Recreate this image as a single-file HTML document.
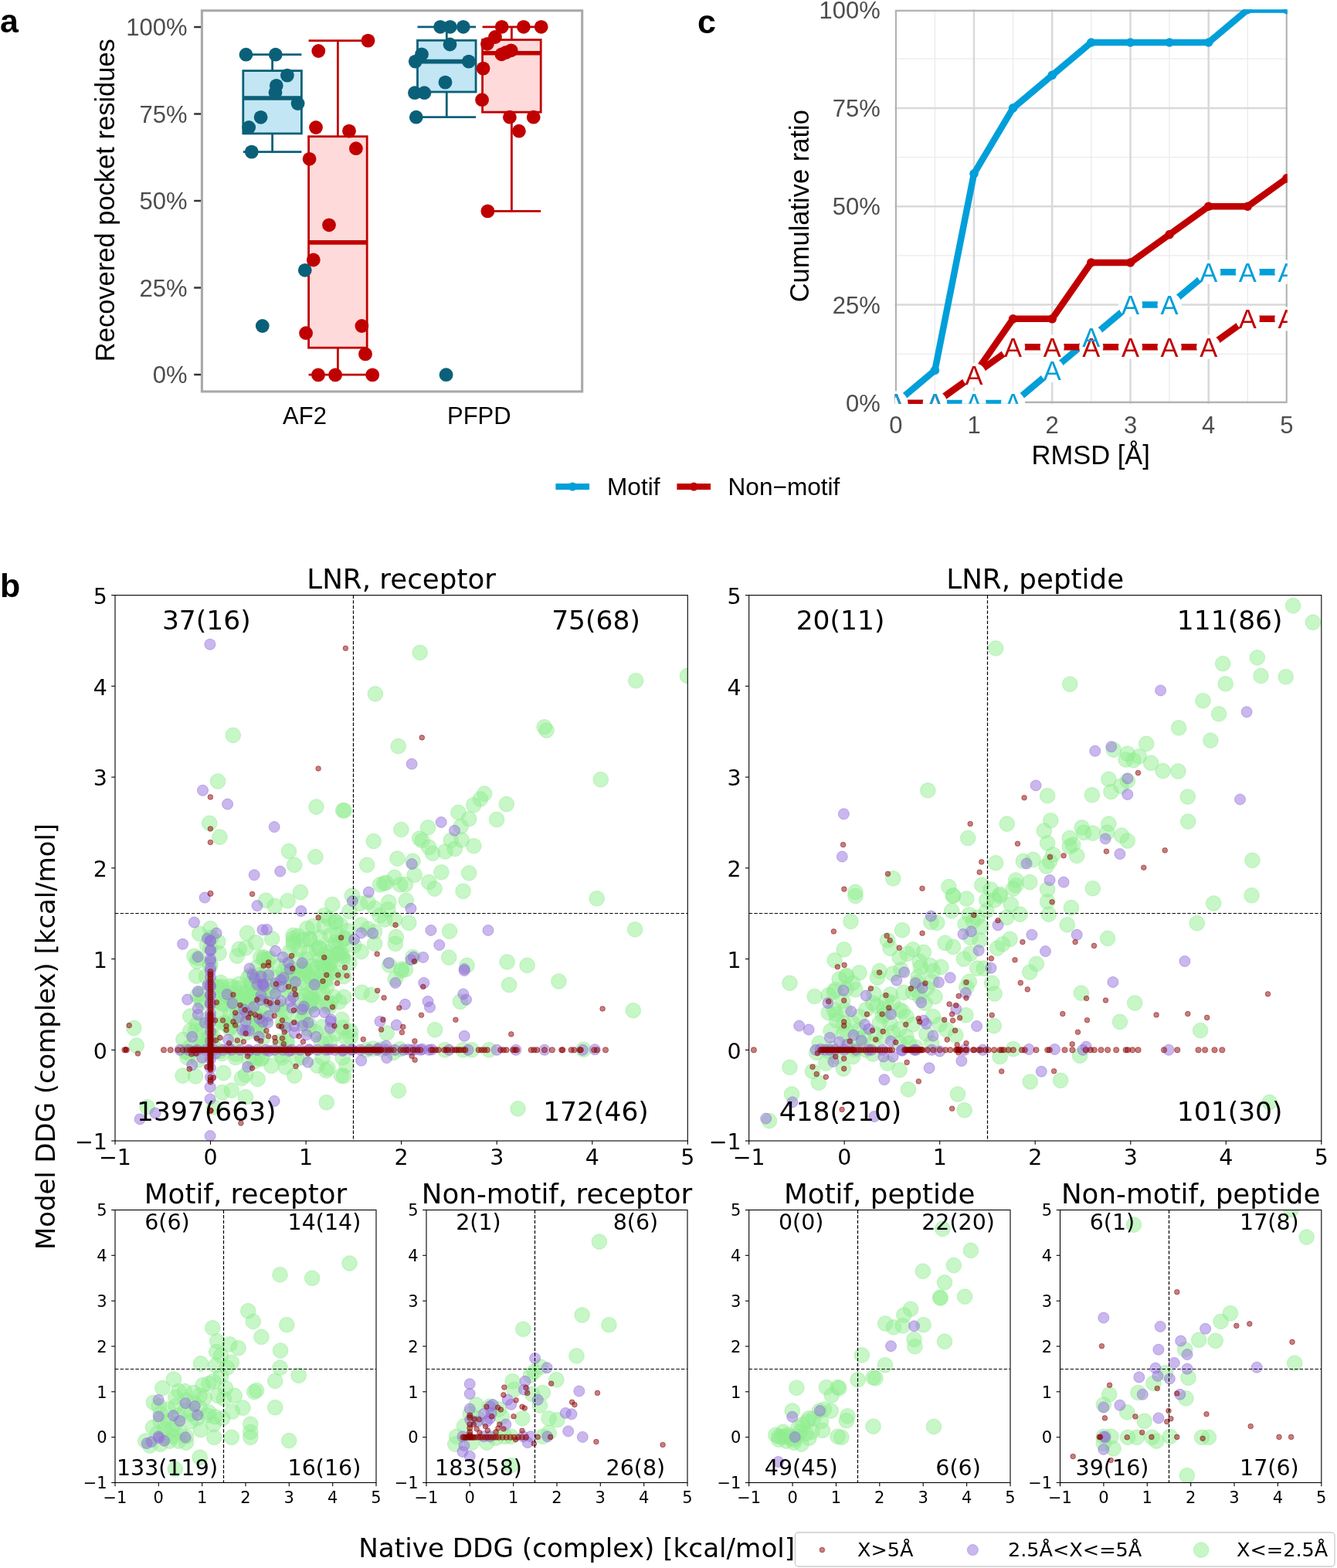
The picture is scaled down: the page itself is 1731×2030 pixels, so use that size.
<!DOCTYPE html>
<html><head><meta charset="utf-8"><title>Figure</title>
<style>html,body{margin:0;padding:0;background:#fff;} svg{display:block;}</style></head>
<body><svg width="1731" height="2030" viewBox="0 0 1731 2030">
<rect width="1731" height="2030" fill="#fff"/>
<rect x="261.4" y="13.75" width="492.3" height="493.15" fill="none" stroke="#a9a9a9" stroke-width="3.1"/>
<line x1="251.2" y1="485.0" x2="260.1" y2="485.0" stroke="#333" stroke-width="2.5"/>
<text x="242.6" y="496.1" text-anchor="end" font-size="31" fill="#4d4d4d" font-family="'Liberation Sans', Arial, sans-serif">0%</text>
<line x1="251.2" y1="372.5" x2="260.1" y2="372.5" stroke="#333" stroke-width="2.5"/>
<text x="242.6" y="383.6" text-anchor="end" font-size="31" fill="#4d4d4d" font-family="'Liberation Sans', Arial, sans-serif">25%</text>
<line x1="251.2" y1="260.0" x2="260.1" y2="260.0" stroke="#333" stroke-width="2.5"/>
<text x="242.6" y="271.1" text-anchor="end" font-size="31" fill="#4d4d4d" font-family="'Liberation Sans', Arial, sans-serif">50%</text>
<line x1="251.2" y1="147.5" x2="260.1" y2="147.5" stroke="#333" stroke-width="2.5"/>
<text x="242.6" y="158.6" text-anchor="end" font-size="31" fill="#4d4d4d" font-family="'Liberation Sans', Arial, sans-serif">75%</text>
<line x1="251.2" y1="35.0" x2="260.1" y2="35.0" stroke="#333" stroke-width="2.5"/>
<text x="242.6" y="46.1" text-anchor="end" font-size="31" fill="#4d4d4d" font-family="'Liberation Sans', Arial, sans-serif">100%</text>
<text transform="translate(147.9,468.2) rotate(-90)" font-size="34.5" fill="#000" font-family="'Liberation Sans', Arial, sans-serif">Recovered pocket residues</text>
<text x="394.5" y="548.5" text-anchor="middle" font-size="31" fill="#000" font-family="'Liberation Sans', Arial, sans-serif">AF2</text>
<text x="620.3" y="548.5" text-anchor="middle" font-size="31" fill="#000" font-family="'Liberation Sans', Arial, sans-serif">PFPD</text>
<line x1="352.6" y1="70.7" x2="352.6" y2="91.6" stroke="#0b6079" stroke-width="2.8"/>
<line x1="352.6" y1="172.9" x2="352.6" y2="196.6" stroke="#0b6079" stroke-width="2.8"/>
<line x1="314.8" y1="70.7" x2="390.40000000000003" y2="70.7" stroke="#0b6079" stroke-width="2.8"/>
<line x1="314.8" y1="196.6" x2="390.40000000000003" y2="196.6" stroke="#0b6079" stroke-width="2.8"/>
<rect x="314.8" y="91.6" width="75.6" height="81.30000000000001" fill="#c2e6f4" stroke="#0b6079" stroke-width="2.8"/>
<line x1="314.8" y1="127.0" x2="390.40000000000003" y2="127.0" stroke="#0b6079" stroke-width="5.6"/>
<line x1="437.4" y1="52.6" x2="437.4" y2="176.7" stroke="#c00000" stroke-width="2.8"/>
<line x1="437.4" y1="450.2" x2="437.4" y2="485.2" stroke="#c00000" stroke-width="2.8"/>
<line x1="399.59999999999997" y1="52.6" x2="475.2" y2="52.6" stroke="#c00000" stroke-width="2.8"/>
<line x1="399.59999999999997" y1="485.2" x2="475.2" y2="485.2" stroke="#c00000" stroke-width="2.8"/>
<rect x="399.59999999999997" y="176.7" width="75.6" height="273.5" fill="#ffdada" stroke="#c00000" stroke-width="2.8"/>
<line x1="399.59999999999997" y1="313.9" x2="475.2" y2="313.9" stroke="#c00000" stroke-width="5.6"/>
<line x1="578.3" y1="34.9" x2="578.3" y2="52.3" stroke="#0b6079" stroke-width="2.8"/>
<line x1="578.3" y1="119.0" x2="578.3" y2="151.7" stroke="#0b6079" stroke-width="2.8"/>
<line x1="540.5" y1="34.9" x2="616.0999999999999" y2="34.9" stroke="#0b6079" stroke-width="2.8"/>
<line x1="540.5" y1="151.7" x2="616.0999999999999" y2="151.7" stroke="#0b6079" stroke-width="2.8"/>
<rect x="540.5" y="52.3" width="75.6" height="66.7" fill="#c2e6f4" stroke="#0b6079" stroke-width="2.8"/>
<line x1="540.5" y1="79.6" x2="616.0999999999999" y2="79.6" stroke="#0b6079" stroke-width="5.6"/>
<line x1="662.4" y1="34.9" x2="662.4" y2="51.5" stroke="#c00000" stroke-width="2.8"/>
<line x1="662.4" y1="145.2" x2="662.4" y2="273.4" stroke="#c00000" stroke-width="2.8"/>
<line x1="624.6" y1="34.9" x2="700.1999999999999" y2="34.9" stroke="#c00000" stroke-width="2.8"/>
<line x1="624.6" y1="273.4" x2="700.1999999999999" y2="273.4" stroke="#c00000" stroke-width="2.8"/>
<rect x="624.6" y="51.5" width="75.6" height="93.69999999999999" fill="#ffdada" stroke="#c00000" stroke-width="2.8"/>
<line x1="624.6" y1="68.8" x2="700.1999999999999" y2="68.8" stroke="#c00000" stroke-width="5.6"/>
<circle cx="318.5" cy="70.7" r="8.9" fill="#0b6079"/>
<circle cx="356.8" cy="70.7" r="8.9" fill="#0b6079"/>
<circle cx="371.9" cy="97.6" r="8.9" fill="#0b6079"/>
<circle cx="357.8" cy="110.8" r="8.9" fill="#0b6079"/>
<circle cx="356.5" cy="119.7" r="8.9" fill="#0b6079"/>
<circle cx="385.6" cy="134" r="8.9" fill="#0b6079"/>
<circle cx="337.6" cy="151.8" r="8.9" fill="#0b6079"/>
<circle cx="322.2" cy="165" r="8.9" fill="#0b6079"/>
<circle cx="325.8" cy="196.6" r="8.9" fill="#0b6079"/>
<circle cx="394.8" cy="349.8" r="8.9" fill="#0b6079"/>
<circle cx="339.8" cy="422" r="8.9" fill="#0b6079"/>
<circle cx="570.1" cy="34.8" r="8.9" fill="#0b6079"/>
<circle cx="582.8" cy="34.8" r="8.9" fill="#0b6079"/>
<circle cx="599.8" cy="34.8" r="8.9" fill="#0b6079"/>
<circle cx="582.5" cy="57.5" r="8.9" fill="#0b6079"/>
<circle cx="546" cy="70.3" r="8.9" fill="#0b6079"/>
<circle cx="537.8" cy="79.6" r="8.9" fill="#0b6079"/>
<circle cx="606.9" cy="79.6" r="8.9" fill="#0b6079"/>
<circle cx="576.5" cy="106.6" r="8.9" fill="#0b6079"/>
<circle cx="537" cy="120.2" r="8.9" fill="#0b6079"/>
<circle cx="549.4" cy="120.2" r="8.9" fill="#0b6079"/>
<circle cx="538.8" cy="151.7" r="8.9" fill="#0b6079"/>
<circle cx="577.6" cy="485.2" r="8.9" fill="#0b6079"/>
<circle cx="476.5" cy="52.6" r="8.9" fill="#c00000"/>
<circle cx="412.3" cy="66" r="8.9" fill="#c00000"/>
<circle cx="409" cy="165" r="8.9" fill="#c00000"/>
<circle cx="452" cy="169.6" r="8.9" fill="#c00000"/>
<circle cx="460.9" cy="192.2" r="8.9" fill="#c00000"/>
<circle cx="400.6" cy="205.8" r="8.9" fill="#c00000"/>
<circle cx="426" cy="291.3" r="8.9" fill="#c00000"/>
<circle cx="405.8" cy="336.5" r="8.9" fill="#c00000"/>
<circle cx="396.1" cy="431.2" r="8.9" fill="#c00000"/>
<circle cx="468.4" cy="422" r="8.9" fill="#c00000"/>
<circle cx="473" cy="458.4" r="8.9" fill="#c00000"/>
<circle cx="412" cy="485.4" r="8.9" fill="#c00000"/>
<circle cx="434.1" cy="485.4" r="8.9" fill="#c00000"/>
<circle cx="482.2" cy="485.4" r="8.9" fill="#c00000"/>
<circle cx="649.7" cy="34.8" r="8.9" fill="#c00000"/>
<circle cx="677.9" cy="34.8" r="8.9" fill="#c00000"/>
<circle cx="700.7" cy="34.8" r="8.9" fill="#c00000"/>
<circle cx="641" cy="48" r="8.9" fill="#c00000"/>
<circle cx="630.9" cy="56.8" r="8.9" fill="#c00000"/>
<circle cx="661.7" cy="65.3" r="8.9" fill="#c00000"/>
<circle cx="649.4" cy="70.3" r="8.9" fill="#c00000"/>
<circle cx="655" cy="68" r="8.9" fill="#c00000"/>
<circle cx="625.6" cy="88.6" r="8.9" fill="#c00000"/>
<circle cx="624.1" cy="129.2" r="8.9" fill="#c00000"/>
<circle cx="659.9" cy="151.7" r="8.9" fill="#c00000"/>
<circle cx="690.7" cy="151.7" r="8.9" fill="#c00000"/>
<circle cx="671.9" cy="169.7" r="8.9" fill="#c00000"/>
<circle cx="631.4" cy="273.4" r="8.9" fill="#c00000"/>
<text x="0" y="42.4" font-size="43" font-weight="bold" fill="#000" font-family="'Liberation Sans', Arial, sans-serif">a</text>
<defs><clipPath id="cpc"><rect x="1158.6" y="12.2" width="508.2" height="510.6"/></clipPath></defs>
<g clip-path="url(#cpc)"><line x1="1210.4" y1="0" x2="1210.4" y2="530" stroke="#ebebeb" stroke-width="1.3"/>
<line x1="1311.6" y1="0" x2="1311.6" y2="530" stroke="#ebebeb" stroke-width="1.3"/>
<line x1="1412.8" y1="0" x2="1412.8" y2="530" stroke="#ebebeb" stroke-width="1.3"/>
<line x1="1514.1" y1="0" x2="1514.1" y2="530" stroke="#ebebeb" stroke-width="1.3"/>
<line x1="1615.3" y1="0" x2="1615.3" y2="530" stroke="#ebebeb" stroke-width="1.3"/>
<line x1="1150" y1="458.3" x2="1680" y2="458.3" stroke="#ebebeb" stroke-width="1.3"/>
<line x1="1150" y1="330.9" x2="1680" y2="330.9" stroke="#ebebeb" stroke-width="1.3"/>
<line x1="1150" y1="203.6" x2="1680" y2="203.6" stroke="#ebebeb" stroke-width="1.3"/>
<line x1="1150" y1="76.2" x2="1680" y2="76.2" stroke="#ebebeb" stroke-width="1.3"/>
<line x1="1261.0" y1="0" x2="1261.0" y2="530" stroke="#d9d9d9" stroke-width="2.5"/>
<line x1="1362.2" y1="0" x2="1362.2" y2="530" stroke="#d9d9d9" stroke-width="2.5"/>
<line x1="1463.5" y1="0" x2="1463.5" y2="530" stroke="#d9d9d9" stroke-width="2.5"/>
<line x1="1564.7" y1="0" x2="1564.7" y2="530" stroke="#d9d9d9" stroke-width="2.5"/>
<line x1="1150" y1="394.6" x2="1680" y2="394.6" stroke="#d9d9d9" stroke-width="2.5"/>
<line x1="1150" y1="267.2" x2="1680" y2="267.2" stroke="#d9d9d9" stroke-width="2.5"/>
<line x1="1150" y1="139.9" x2="1680" y2="139.9" stroke="#d9d9d9" stroke-width="2.5"/>
<rect x="1159.8" y="13.8" width="506.1" height="507.0" fill="none" stroke="#b3b3b3" stroke-width="2.5"/>
<path d="M1159.8,522.0 L1210.4,522.0 L1261.0,522.0 L1311.6,522.0 L1362.2,479.5 L1412.8,437.1 L1463.5,394.6 L1514.1,394.6 L1564.7,352.2 L1615.3,352.2 L1665.9,352.2" fill="none" stroke="#009fd9" stroke-width="8.5" stroke-linejoin="round"/>
<path d="M1159.8,522.0 L1210.4,522.0 L1261.0,485.6 L1311.6,449.2 L1362.2,449.2 L1412.8,449.2 L1463.5,449.2 L1514.1,449.2 L1564.7,449.2 L1615.3,412.8 L1665.9,412.8" fill="none" stroke="#c00000" stroke-width="8.5" stroke-linejoin="round"/>
<path d="M1159.8,522.0 L1210.4,479.5 L1261.0,224.8 L1311.6,139.9 L1362.2,97.4 L1412.8,55.0 L1463.5,55.0 L1514.1,55.0 L1564.7,55.0 L1615.3,12.5 L1665.9,12.5" fill="none" stroke="#009fd9" stroke-width="8.5" stroke-linejoin="round"/>
<path d="M1159.8,522.0 L1210.4,522.0 L1261.0,485.6 L1311.6,412.8 L1362.2,412.8 L1412.8,340.0 L1463.5,340.0 L1514.1,303.6 L1564.7,267.2 L1615.3,267.2 L1665.9,230.9" fill="none" stroke="#c00000" stroke-width="8.5" stroke-linejoin="round"/>
<circle cx="1159.8" cy="522.0" r="5.8" fill="#009fd9"/>
<circle cx="1210.4" cy="479.5" r="5.8" fill="#009fd9"/>
<circle cx="1261.0" cy="224.8" r="5.8" fill="#009fd9"/>
<circle cx="1311.6" cy="139.9" r="5.8" fill="#009fd9"/>
<circle cx="1362.2" cy="97.4" r="5.8" fill="#009fd9"/>
<circle cx="1412.8" cy="55.0" r="5.8" fill="#009fd9"/>
<circle cx="1463.5" cy="55.0" r="5.8" fill="#009fd9"/>
<circle cx="1514.1" cy="55.0" r="5.8" fill="#009fd9"/>
<circle cx="1564.7" cy="55.0" r="5.8" fill="#009fd9"/>
<circle cx="1615.3" cy="12.5" r="5.8" fill="#009fd9"/>
<circle cx="1665.9" cy="12.5" r="5.8" fill="#009fd9"/>
<circle cx="1159.8" cy="522.0" r="5.8" fill="#c00000"/>
<circle cx="1210.4" cy="522.0" r="5.8" fill="#c00000"/>
<circle cx="1261.0" cy="485.6" r="5.8" fill="#c00000"/>
<circle cx="1311.6" cy="412.8" r="5.8" fill="#c00000"/>
<circle cx="1362.2" cy="412.8" r="5.8" fill="#c00000"/>
<circle cx="1412.8" cy="340.0" r="5.8" fill="#c00000"/>
<circle cx="1463.5" cy="340.0" r="5.8" fill="#c00000"/>
<circle cx="1514.1" cy="303.6" r="5.8" fill="#c00000"/>
<circle cx="1564.7" cy="267.2" r="5.8" fill="#c00000"/>
<circle cx="1615.3" cy="267.2" r="5.8" fill="#c00000"/>
<circle cx="1665.9" cy="230.9" r="5.8" fill="#c00000"/>
<circle cx="1159.8" cy="522.0" r="15.6" fill="#fff"/>
<circle cx="1210.4" cy="522.0" r="15.6" fill="#fff"/>
<circle cx="1261.0" cy="522.0" r="15.6" fill="#fff"/>
<circle cx="1311.6" cy="522.0" r="15.6" fill="#fff"/>
<circle cx="1362.2" cy="479.5" r="15.6" fill="#fff"/>
<circle cx="1412.8" cy="437.1" r="15.6" fill="#fff"/>
<circle cx="1463.5" cy="394.6" r="15.6" fill="#fff"/>
<circle cx="1514.1" cy="394.6" r="15.6" fill="#fff"/>
<circle cx="1564.7" cy="352.2" r="15.6" fill="#fff"/>
<circle cx="1615.3" cy="352.2" r="15.6" fill="#fff"/>
<circle cx="1665.9" cy="352.2" r="15.6" fill="#fff"/>
<circle cx="1159.8" cy="522.0" r="15.6" fill="#fff"/>
<circle cx="1210.4" cy="522.0" r="15.6" fill="#fff"/>
<circle cx="1261.0" cy="485.6" r="15.6" fill="#fff"/>
<circle cx="1311.6" cy="449.2" r="15.6" fill="#fff"/>
<circle cx="1362.2" cy="449.2" r="15.6" fill="#fff"/>
<circle cx="1412.8" cy="449.2" r="15.6" fill="#fff"/>
<circle cx="1463.5" cy="449.2" r="15.6" fill="#fff"/>
<circle cx="1514.1" cy="449.2" r="15.6" fill="#fff"/>
<circle cx="1564.7" cy="449.2" r="15.6" fill="#fff"/>
<circle cx="1615.3" cy="412.8" r="15.6" fill="#fff"/>
<circle cx="1665.9" cy="412.8" r="15.6" fill="#fff"/>
<text x="1159.8" y="534.4" text-anchor="middle" font-size="34.5" fill="#c00000" font-family="'Liberation Sans', Arial, sans-serif">A</text>
<text x="1210.4" y="534.4" text-anchor="middle" font-size="34.5" fill="#c00000" font-family="'Liberation Sans', Arial, sans-serif">A</text>
<text x="1261.0" y="498.0" text-anchor="middle" font-size="34.5" fill="#c00000" font-family="'Liberation Sans', Arial, sans-serif">A</text>
<text x="1311.6" y="461.6" text-anchor="middle" font-size="34.5" fill="#c00000" font-family="'Liberation Sans', Arial, sans-serif">A</text>
<text x="1362.2" y="461.6" text-anchor="middle" font-size="34.5" fill="#c00000" font-family="'Liberation Sans', Arial, sans-serif">A</text>
<text x="1412.8" y="461.6" text-anchor="middle" font-size="34.5" fill="#c00000" font-family="'Liberation Sans', Arial, sans-serif">A</text>
<text x="1463.5" y="461.6" text-anchor="middle" font-size="34.5" fill="#c00000" font-family="'Liberation Sans', Arial, sans-serif">A</text>
<text x="1514.1" y="461.6" text-anchor="middle" font-size="34.5" fill="#c00000" font-family="'Liberation Sans', Arial, sans-serif">A</text>
<text x="1564.7" y="461.6" text-anchor="middle" font-size="34.5" fill="#c00000" font-family="'Liberation Sans', Arial, sans-serif">A</text>
<text x="1615.3" y="425.2" text-anchor="middle" font-size="34.5" fill="#c00000" font-family="'Liberation Sans', Arial, sans-serif">A</text>
<text x="1665.9" y="425.2" text-anchor="middle" font-size="34.5" fill="#c00000" font-family="'Liberation Sans', Arial, sans-serif">A</text>
<text x="1159.8" y="534.4" text-anchor="middle" font-size="34.5" fill="#009fd9" font-family="'Liberation Sans', Arial, sans-serif">A</text>
<text x="1210.4" y="534.4" text-anchor="middle" font-size="34.5" fill="#009fd9" font-family="'Liberation Sans', Arial, sans-serif">A</text>
<text x="1261.0" y="534.4" text-anchor="middle" font-size="34.5" fill="#009fd9" font-family="'Liberation Sans', Arial, sans-serif">A</text>
<text x="1311.6" y="534.4" text-anchor="middle" font-size="34.5" fill="#009fd9" font-family="'Liberation Sans', Arial, sans-serif">A</text>
<text x="1362.2" y="491.9" text-anchor="middle" font-size="34.5" fill="#009fd9" font-family="'Liberation Sans', Arial, sans-serif">A</text>
<text x="1412.8" y="449.4" text-anchor="middle" font-size="34.5" fill="#009fd9" font-family="'Liberation Sans', Arial, sans-serif">A</text>
<text x="1463.5" y="407.0" text-anchor="middle" font-size="34.5" fill="#009fd9" font-family="'Liberation Sans', Arial, sans-serif">A</text>
<text x="1514.1" y="407.0" text-anchor="middle" font-size="34.5" fill="#009fd9" font-family="'Liberation Sans', Arial, sans-serif">A</text>
<text x="1564.7" y="364.5" text-anchor="middle" font-size="34.5" fill="#009fd9" font-family="'Liberation Sans', Arial, sans-serif">A</text>
<text x="1615.3" y="364.5" text-anchor="middle" font-size="34.5" fill="#009fd9" font-family="'Liberation Sans', Arial, sans-serif">A</text>
<text x="1665.9" y="364.5" text-anchor="middle" font-size="34.5" fill="#009fd9" font-family="'Liberation Sans', Arial, sans-serif">A</text></g>
<text x="1139.9" y="533.1" text-anchor="end" font-size="31" fill="#4d4d4d" font-family="'Liberation Sans', Arial, sans-serif">0%</text>
<text x="1139.9" y="405.7" text-anchor="end" font-size="31" fill="#4d4d4d" font-family="'Liberation Sans', Arial, sans-serif">25%</text>
<text x="1139.9" y="278.4" text-anchor="end" font-size="31" fill="#4d4d4d" font-family="'Liberation Sans', Arial, sans-serif">50%</text>
<text x="1139.9" y="151.0" text-anchor="end" font-size="31" fill="#4d4d4d" font-family="'Liberation Sans', Arial, sans-serif">75%</text>
<text x="1139.9" y="23.6" text-anchor="end" font-size="31" fill="#4d4d4d" font-family="'Liberation Sans', Arial, sans-serif">100%</text>
<text x="1159.8" y="560.6" text-anchor="middle" font-size="31" fill="#4d4d4d" font-family="'Liberation Sans', Arial, sans-serif">0</text>
<text x="1261.0" y="560.6" text-anchor="middle" font-size="31" fill="#4d4d4d" font-family="'Liberation Sans', Arial, sans-serif">1</text>
<text x="1362.2" y="560.6" text-anchor="middle" font-size="31" fill="#4d4d4d" font-family="'Liberation Sans', Arial, sans-serif">2</text>
<text x="1463.5" y="560.6" text-anchor="middle" font-size="31" fill="#4d4d4d" font-family="'Liberation Sans', Arial, sans-serif">3</text>
<text x="1564.7" y="560.6" text-anchor="middle" font-size="31" fill="#4d4d4d" font-family="'Liberation Sans', Arial, sans-serif">4</text>
<text x="1665.9" y="560.6" text-anchor="middle" font-size="31" fill="#4d4d4d" font-family="'Liberation Sans', Arial, sans-serif">5</text>
<text x="1412.2" y="601" text-anchor="middle" font-size="34.5" fill="#000" font-family="'Liberation Sans', Arial, sans-serif">RMSD [Å]</text>
<text transform="translate(1046.5,266.7) rotate(-90)" text-anchor="middle" font-size="34.5" fill="#000" font-family="'Liberation Sans', Arial, sans-serif">Cumulative ratio</text>
<text x="903" y="43.3" font-size="43" font-weight="bold" fill="#000" font-family="'Liberation Sans', Arial, sans-serif">c</text>
<line x1="719.4" y1="630" x2="763.1" y2="630" stroke="#009fd9" stroke-width="8"/>
<circle cx="741.3" cy="630" r="5.6" fill="#009fd9"/>
<text x="786" y="641" font-size="31.6" fill="#000" font-family="'Liberation Sans', Arial, sans-serif">Motif</text>
<line x1="876.4" y1="630" x2="920" y2="630" stroke="#c00000" stroke-width="8"/>
<circle cx="898.3" cy="630" r="5.6" fill="#c00000"/>
<text x="942.5" y="641" font-size="31.6" fill="#000" font-family="'Liberation Sans', Arial, sans-serif">Non−motif</text>
<clipPath id="cpL"><rect x="149.0" y="770.6" width="741.3" height="706.4"/></clipPath>
<g clip-path="url(#cpL)">
<g fill="#90ee90" fill-opacity="0.5" stroke="#90ee90" stroke-opacity="0.5" stroke-width="1">
<circle cx="272.3" cy="1202.1" r="9.8"/>
<circle cx="268.0" cy="1223.7" r="9.8"/>
<circle cx="283.6" cy="1234.1" r="9.8"/>
<circle cx="255.0" cy="1244.5" r="9.8"/>
<circle cx="272.3" cy="1248.0" r="9.8"/>
<circle cx="254.1" cy="1263.6" r="9.8"/>
<circle cx="272.3" cy="1274.0" r="9.8"/>
<circle cx="320.0" cy="1208.1" r="9.8"/>
<circle cx="331.2" cy="1220.3" r="9.8"/>
<circle cx="309.6" cy="1228.9" r="9.8"/>
<circle cx="307.0" cy="1237.6" r="9.8"/>
<circle cx="318.2" cy="1227.2" r="9.8"/>
<circle cx="337.3" cy="1239.3" r="9.8"/>
<circle cx="333.0" cy="1252.3" r="9.8"/>
<circle cx="298.3" cy="1276.6" r="9.8"/>
<circle cx="302.7" cy="1278.3" r="9.8"/>
<circle cx="315.6" cy="1287.0" r="9.8"/>
<circle cx="328.6" cy="1278.3" r="9.8"/>
<circle cx="337.3" cy="1265.3" r="9.8"/>
<circle cx="259.3" cy="1287.0" r="9.8"/>
<circle cx="276.7" cy="1291.3" r="9.8"/>
<circle cx="285.3" cy="1308.6" r="9.8"/>
<circle cx="298.3" cy="1313.0" r="9.8"/>
<circle cx="246.3" cy="1315.6" r="9.8"/>
<circle cx="255.0" cy="1326.0" r="9.8"/>
<circle cx="337.3" cy="1291.3" r="9.8"/>
<circle cx="320.0" cy="1300.0" r="9.8"/>
<circle cx="276.7" cy="1326.0" r="9.8"/>
<circle cx="311.3" cy="1326.0" r="9.8"/>
<circle cx="333.0" cy="1326.0" r="9.8"/>
<circle cx="289.7" cy="1300.0" r="9.8"/>
<circle cx="298.3" cy="1291.3" r="9.8"/>
<circle cx="324.3" cy="1291.3" r="9.8"/>
<circle cx="311.3" cy="1313.0" r="9.8"/>
<circle cx="344.2" cy="1165.7" r="9.8"/>
<circle cx="355.7" cy="1172.8" r="9.8"/>
<circle cx="372.6" cy="1166.2" r="9.8"/>
<circle cx="389.0" cy="1155.1" r="9.8"/>
<circle cx="430.2" cy="1171.0" r="9.8"/>
<circle cx="455.9" cy="1159.5" r="9.8"/>
<circle cx="452.3" cy="1179.9" r="9.8"/>
<circle cx="419.5" cy="1185.2" r="9.8"/>
<circle cx="405.4" cy="1199.4" r="9.8"/>
<circle cx="434.6" cy="1193.2" r="9.8"/>
<circle cx="440.8" cy="1197.6" r="9.8"/>
<circle cx="379.6" cy="1210.9" r="9.8"/>
<circle cx="385.9" cy="1211.8" r="9.8"/>
<circle cx="400.9" cy="1216.2" r="9.8"/>
<circle cx="414.2" cy="1213.6" r="9.8"/>
<circle cx="427.5" cy="1210.9" r="9.8"/>
<circle cx="434.6" cy="1219.8" r="9.8"/>
<circle cx="445.2" cy="1215.4" r="9.8"/>
<circle cx="458.5" cy="1224.2" r="9.8"/>
<circle cx="352.2" cy="1215.4" r="9.8"/>
<circle cx="341.5" cy="1239.3" r="9.8"/>
<circle cx="374.3" cy="1233.1" r="9.8"/>
<circle cx="387.6" cy="1228.7" r="9.8"/>
<circle cx="399.1" cy="1233.1" r="9.8"/>
<circle cx="409.8" cy="1228.7" r="9.8"/>
<circle cx="423.1" cy="1233.1" r="9.8"/>
<circle cx="427.5" cy="1240.2" r="9.8"/>
<circle cx="443.5" cy="1237.5" r="9.8"/>
<circle cx="452.3" cy="1246.4" r="9.8"/>
<circle cx="361.0" cy="1250.8" r="9.8"/>
<circle cx="378.8" cy="1255.2" r="9.8"/>
<circle cx="392.1" cy="1255.2" r="9.8"/>
<circle cx="405.4" cy="1250.8" r="9.8"/>
<circle cx="418.7" cy="1250.8" r="9.8"/>
<circle cx="436.4" cy="1259.7" r="9.8"/>
<circle cx="445.2" cy="1264.1" r="9.8"/>
<circle cx="445.2" cy="1290.7" r="9.8"/>
<circle cx="392.1" cy="1273.0" r="9.8"/>
<circle cx="409.8" cy="1268.5" r="9.8"/>
<circle cx="423.1" cy="1277.4" r="9.8"/>
<circle cx="400.9" cy="1286.3" r="9.8"/>
<circle cx="387.6" cy="1295.1" r="9.8"/>
<circle cx="400.9" cy="1299.6" r="9.8"/>
<circle cx="425.7" cy="1304.0" r="9.8"/>
<circle cx="442.6" cy="1320.0" r="9.8"/>
<circle cx="365.5" cy="1308.4" r="9.8"/>
<circle cx="343.3" cy="1308.4" r="9.8"/>
<circle cx="352.2" cy="1286.3" r="9.8"/>
<circle cx="396.5" cy="1242.0" r="9.8"/>
<circle cx="414.2" cy="1242.0" r="9.8"/>
<circle cx="383.2" cy="1242.0" r="9.8"/>
<circle cx="369.9" cy="1264.1" r="9.8"/>
<circle cx="400.9" cy="1264.1" r="9.8"/>
<circle cx="418.7" cy="1286.3" r="9.8"/>
<circle cx="432.0" cy="1290.7" r="9.8"/>
<circle cx="282.1" cy="1011.5" r="9.8"/>
<circle cx="271.2" cy="1065.7" r="9.8"/>
<circle cx="284.5" cy="1083.6" r="9.8"/>
<circle cx="409.5" cy="1044.6" r="9.8"/>
<circle cx="444.1" cy="1049.3" r="9.8"/>
<circle cx="374.0" cy="1102.1" r="9.8"/>
<circle cx="381.2" cy="1119.8" r="9.8"/>
<circle cx="408.4" cy="1109.4" r="9.8"/>
<circle cx="173.3" cy="1331.0" r="9.8"/>
<circle cx="176.7" cy="1353.6" r="9.8"/>
<circle cx="237.4" cy="1345.8" r="9.8"/>
<circle cx="236.5" cy="1392.6" r="9.8"/>
<circle cx="253.0" cy="1393.4" r="9.8"/>
<circle cx="242.6" cy="1369.2" r="9.8"/>
<circle cx="289.4" cy="1389.1" r="9.8"/>
<circle cx="312.8" cy="1396.0" r="9.8"/>
<circle cx="333.6" cy="1396.9" r="9.8"/>
<circle cx="381.2" cy="1392.6" r="9.8"/>
<circle cx="410.7" cy="1379.6" r="9.8"/>
<circle cx="424.6" cy="1383.0" r="9.8"/>
<circle cx="441.9" cy="1392.6" r="9.8"/>
<circle cx="287.6" cy="1414.2" r="9.8"/>
<circle cx="299.8" cy="1411.6" r="9.8"/>
<circle cx="318.0" cy="1420.3" r="9.8"/>
<circle cx="422.8" cy="1427.2" r="9.8"/>
<circle cx="190.6" cy="1433.3" r="9.8"/>
<circle cx="277.2" cy="1433.3" r="9.8"/>
<circle cx="256.5" cy="1355.3" r="9.8"/>
<circle cx="256.5" cy="1372.6" r="9.8"/>
<circle cx="287.6" cy="1364.0" r="9.8"/>
<circle cx="305.0" cy="1369.2" r="9.8"/>
<circle cx="322.3" cy="1372.6" r="9.8"/>
<circle cx="339.6" cy="1369.2" r="9.8"/>
<circle cx="365.6" cy="1369.2" r="9.8"/>
<circle cx="391.6" cy="1369.2" r="9.8"/>
<circle cx="417.6" cy="1369.2" r="9.8"/>
<circle cx="443.6" cy="1369.2" r="9.8"/>
<circle cx="305.0" cy="1346.6" r="9.8"/>
<circle cx="391.6" cy="1320.6" r="9.8"/>
<circle cx="417.6" cy="1329.3" r="9.8"/>
<circle cx="435.0" cy="1338.0" r="9.8"/>
<circle cx="246.1" cy="1355.3" r="9.8"/>
<circle cx="261.7" cy="1346.6" r="9.8"/>
<circle cx="253.0" cy="1334.5" r="9.8"/>
<circle cx="515.7" cy="966.1" r="9.8"/>
<circle cx="445.7" cy="1049.3" r="9.8"/>
<circle cx="483.7" cy="1089.1" r="9.8"/>
<circle cx="519.4" cy="1074.0" r="9.8"/>
<circle cx="475.2" cy="1119.8" r="9.8"/>
<circle cx="514.5" cy="1111.6" r="9.8"/>
<circle cx="534.5" cy="1114.8" r="9.8"/>
<circle cx="536.7" cy="1132.8" r="9.8"/>
<circle cx="627.2" cy="1027.6" r="9.8"/>
<circle cx="622.0" cy="1034.5" r="9.8"/>
<circle cx="613.3" cy="1042.3" r="9.8"/>
<circle cx="655.8" cy="1041.1" r="9.8"/>
<circle cx="643.1" cy="1061.0" r="9.8"/>
<circle cx="593.4" cy="1051.9" r="9.8"/>
<circle cx="607.2" cy="1060.2" r="9.8"/>
<circle cx="596.5" cy="1070.1" r="9.8"/>
<circle cx="554.0" cy="1071.4" r="9.8"/>
<circle cx="543.1" cy="1085.6" r="9.8"/>
<circle cx="546.6" cy="1088.2" r="9.8"/>
<circle cx="555.3" cy="1096.9" r="9.8"/>
<circle cx="560.1" cy="1104.7" r="9.8"/>
<circle cx="576.4" cy="1102.5" r="9.8"/>
<circle cx="583.8" cy="1087.9" r="9.8"/>
<circle cx="597.7" cy="1087.4" r="9.8"/>
<circle cx="588.7" cy="1099.0" r="9.8"/>
<circle cx="613.3" cy="1095.2" r="9.8"/>
<circle cx="571.4" cy="1129.3" r="9.8"/>
<circle cx="607.2" cy="1130.4" r="9.8"/>
<circle cx="555.3" cy="1142.0" r="9.8"/>
<circle cx="562.7" cy="1150.6" r="9.8"/>
<circle cx="599.6" cy="1153.8" r="9.8"/>
<circle cx="510.7" cy="1135.9" r="9.8"/>
<circle cx="497.2" cy="1143.7" r="9.8"/>
<circle cx="492.0" cy="1145.4" r="9.8"/>
<circle cx="499.8" cy="1142.8" r="9.8"/>
<circle cx="518.0" cy="1145.4" r="9.8"/>
<circle cx="524.9" cy="1145.1" r="9.8"/>
<circle cx="525.8" cy="1165.9" r="9.8"/>
<circle cx="466.0" cy="1169.7" r="9.8"/>
<circle cx="476.4" cy="1168.0" r="9.8"/>
<circle cx="485.1" cy="1175.8" r="9.8"/>
<circle cx="503.3" cy="1168.0" r="9.8"/>
<circle cx="502.4" cy="1177.5" r="9.8"/>
<circle cx="492.0" cy="1185.3" r="9.8"/>
<circle cx="498.1" cy="1190.5" r="9.8"/>
<circle cx="511.1" cy="1190.5" r="9.8"/>
<circle cx="529.3" cy="1194.8" r="9.8"/>
<circle cx="467.7" cy="1197.4" r="9.8"/>
<circle cx="476.4" cy="1202.6" r="9.8"/>
<circle cx="485.1" cy="1206.1" r="9.8"/>
<circle cx="512.8" cy="1213.0" r="9.8"/>
<circle cx="511.9" cy="1221.7" r="9.8"/>
<circle cx="485.1" cy="1221.7" r="9.8"/>
<circle cx="467.7" cy="1232.1" r="9.8"/>
<circle cx="504.1" cy="1249.4" r="9.8"/>
<circle cx="519.7" cy="1254.6" r="9.8"/>
<circle cx="534.5" cy="1239.0" r="9.8"/>
<circle cx="582.1" cy="1205.6" r="9.8"/>
<circle cx="581.2" cy="1239.5" r="9.8"/>
<circle cx="604.6" cy="1249.9" r="9.8"/>
<circle cx="656.6" cy="1245.4" r="9.8"/>
<circle cx="682.6" cy="1249.8" r="9.8"/>
<circle cx="519.7" cy="1256.9" r="9.8"/>
<circle cx="524.9" cy="1255.2" r="9.8"/>
<circle cx="659.2" cy="1275.1" r="9.8"/>
<circle cx="723.4" cy="1270.5" r="9.8"/>
<circle cx="596.0" cy="1296.8" r="9.8"/>
<circle cx="511.9" cy="1267.3" r="9.8"/>
<circle cx="468.6" cy="1284.7" r="9.8"/>
<circle cx="480.7" cy="1288.1" r="9.8"/>
<circle cx="453.9" cy="1334.9" r="9.8"/>
<circle cx="453.9" cy="1342.7" r="9.8"/>
<circle cx="500.7" cy="1337.5" r="9.8"/>
<circle cx="563.1" cy="1333.2" r="9.8"/>
<circle cx="474.7" cy="1359.2" r="9.8"/>
<circle cx="483.3" cy="1357.5" r="9.8"/>
<circle cx="493.7" cy="1358.3" r="9.8"/>
<circle cx="518.0" cy="1358.3" r="9.8"/>
<circle cx="509.3" cy="1362.7" r="9.8"/>
<circle cx="576.0" cy="1359.2" r="9.8"/>
<circle cx="599.4" cy="1359.2" r="9.8"/>
<circle cx="610.7" cy="1359.2" r="9.8"/>
<circle cx="633.2" cy="1359.2" r="9.8"/>
<circle cx="445.2" cy="1393.0" r="9.8"/>
<circle cx="515.9" cy="1412.0" r="9.8"/>
<circle cx="670.5" cy="1435.4" r="9.8"/>
<circle cx="777.8" cy="1009.2" r="9.8"/>
<circle cx="772.7" cy="1163.3" r="9.8"/>
<circle cx="822.1" cy="1203.3" r="9.8"/>
<circle cx="819.8" cy="1308.3" r="9.8"/>
<circle cx="755.4" cy="1358.7" r="9.8"/>
<circle cx="543.7" cy="844.9" r="9.8"/>
<circle cx="485.9" cy="898.4" r="9.8"/>
<circle cx="823.2" cy="881.3" r="9.8"/>
<circle cx="890.0" cy="874.9" r="9.8"/>
<circle cx="301.8" cy="951.9" r="9.8"/>
<circle cx="704.7" cy="941.2" r="9.8"/>
<circle cx="707.6" cy="945.5" r="9.8"/>
<circle cx="302.8" cy="1321.3" r="9.8"/>
<circle cx="414.1" cy="1227.7" r="9.8"/>
<circle cx="366.6" cy="1258.4" r="9.8"/>
<circle cx="394.2" cy="1312.0" r="9.8"/>
<circle cx="426.8" cy="1255.8" r="9.8"/>
<circle cx="357.8" cy="1301.4" r="9.8"/>
<circle cx="319.5" cy="1336.8" r="9.8"/>
<circle cx="356.4" cy="1265.7" r="9.8"/>
<circle cx="392.6" cy="1216.7" r="9.8"/>
<circle cx="406.6" cy="1299.8" r="9.8"/>
<circle cx="332.7" cy="1280.2" r="9.8"/>
<circle cx="368.4" cy="1280.5" r="9.8"/>
<circle cx="420.0" cy="1252.8" r="9.8"/>
<circle cx="309.6" cy="1274.1" r="9.8"/>
<circle cx="403.3" cy="1294.0" r="9.8"/>
<circle cx="345.3" cy="1256.7" r="9.8"/>
<circle cx="368.9" cy="1310.4" r="9.8"/>
<circle cx="371.1" cy="1249.5" r="9.8"/>
<circle cx="286.7" cy="1298.5" r="9.8"/>
<circle cx="415.3" cy="1272.7" r="9.8"/>
<circle cx="431.1" cy="1224.1" r="9.8"/>
<circle cx="381.2" cy="1259.9" r="9.8"/>
<circle cx="326.6" cy="1274.0" r="9.8"/>
<circle cx="422.1" cy="1269.3" r="9.8"/>
<circle cx="378.3" cy="1254.7" r="9.8"/>
<circle cx="289.0" cy="1324.9" r="9.8"/>
<circle cx="379.8" cy="1218.9" r="9.8"/>
<circle cx="368.3" cy="1264.0" r="9.8"/>
<circle cx="342.1" cy="1242.1" r="9.8"/>
<circle cx="374.2" cy="1285.9" r="9.8"/>
<circle cx="387.3" cy="1259.8" r="9.8"/>
<circle cx="310.4" cy="1279.7" r="9.8"/>
<circle cx="324.2" cy="1320.4" r="9.8"/>
<circle cx="412.6" cy="1226.8" r="9.8"/>
<circle cx="298.4" cy="1286.1" r="9.8"/>
<circle cx="404.8" cy="1259.2" r="9.8"/>
<circle cx="336.0" cy="1262.2" r="9.8"/>
<circle cx="298.3" cy="1329.6" r="9.8"/>
<circle cx="386.1" cy="1316.5" r="9.8"/>
<circle cx="304.9" cy="1301.0" r="9.8"/>
<circle cx="307.4" cy="1298.7" r="9.8"/>
<circle cx="398.9" cy="1273.5" r="9.8"/>
<circle cx="420.1" cy="1269.0" r="9.8"/>
<circle cx="318.5" cy="1289.9" r="9.8"/>
<circle cx="348.8" cy="1278.4" r="9.8"/>
<circle cx="335.8" cy="1287.1" r="9.8"/>
<circle cx="333.2" cy="1323.1" r="9.8"/>
<circle cx="333.9" cy="1335.8" r="9.8"/>
<circle cx="410.5" cy="1253.1" r="9.8"/>
<circle cx="434.4" cy="1193.3" r="9.8"/>
<circle cx="379.9" cy="1214.5" r="9.8"/>
<circle cx="403.5" cy="1267.8" r="9.8"/>
<circle cx="345.9" cy="1242.2" r="9.8"/>
<circle cx="315.4" cy="1293.9" r="9.8"/>
<circle cx="297.5" cy="1292.6" r="9.8"/>
<circle cx="331.4" cy="1266.4" r="9.8"/>
<circle cx="336.6" cy="1325.1" r="9.8"/>
<circle cx="443.8" cy="1241.7" r="9.8"/>
<circle cx="320.5" cy="1302.0" r="9.8"/>
<circle cx="440.1" cy="1221.0" r="9.8"/>
<circle cx="413.2" cy="1282.2" r="9.8"/>
<circle cx="427.7" cy="1245.5" r="9.8"/>
<circle cx="292.0" cy="1324.3" r="9.8"/>
<circle cx="339.3" cy="1284.6" r="9.8"/>
<circle cx="417.3" cy="1247.1" r="9.8"/>
<circle cx="379.9" cy="1222.7" r="9.8"/>
<circle cx="328.0" cy="1311.8" r="9.8"/>
<circle cx="425.4" cy="1189.3" r="9.8"/>
<circle cx="397.6" cy="1201.8" r="9.8"/>
<circle cx="299.4" cy="1327.3" r="9.8"/>
<circle cx="321.7" cy="1305.0" r="9.8"/>
<circle cx="297.2" cy="1331.3" r="9.8"/>
<circle cx="439.8" cy="1233.8" r="9.8"/>
<circle cx="323.8" cy="1262.8" r="9.8"/>
<circle cx="296.7" cy="1290.4" r="9.8"/>
<circle cx="384.5" cy="1258.5" r="9.8"/>
<circle cx="450.5" cy="1205.0" r="9.8"/>
<circle cx="317.1" cy="1285.0" r="9.8"/>
<circle cx="400.7" cy="1292.0" r="9.8"/>
<circle cx="324.8" cy="1273.0" r="9.8"/>
<circle cx="394.3" cy="1289.1" r="9.8"/>
<circle cx="335.0" cy="1321.3" r="9.8"/>
<circle cx="437.0" cy="1235.2" r="9.8"/>
<circle cx="338.1" cy="1273.4" r="9.8"/>
<circle cx="381.4" cy="1281.6" r="9.8"/>
<circle cx="292.3" cy="1287.8" r="9.8"/>
<circle cx="330.4" cy="1312.6" r="9.8"/>
<circle cx="366.2" cy="1323.7" r="9.8"/>
<circle cx="419.6" cy="1199.5" r="9.8"/>
<circle cx="446.8" cy="1214.7" r="9.8"/>
<circle cx="424.3" cy="1237.9" r="9.8"/>
<circle cx="441.6" cy="1233.7" r="9.8"/>
<circle cx="437.0" cy="1209.7" r="9.8"/>
<circle cx="334.9" cy="1330.1" r="9.8"/>
<circle cx="400.9" cy="1215.5" r="9.8"/>
<circle cx="405.4" cy="1292.9" r="9.8"/>
<circle cx="376.1" cy="1272.9" r="9.8"/>
<circle cx="429.5" cy="1259.0" r="9.8"/>
<circle cx="349.0" cy="1240.9" r="9.8"/>
<circle cx="393.3" cy="1253.2" r="9.8"/>
<circle cx="425.6" cy="1250.2" r="9.8"/>
<circle cx="349.9" cy="1284.2" r="9.8"/>
<circle cx="372.5" cy="1266.5" r="9.8"/>
<circle cx="393.7" cy="1256.6" r="9.8"/>
<circle cx="400.4" cy="1303.0" r="9.8"/>
<circle cx="321.2" cy="1265.6" r="9.8"/>
<circle cx="351.9" cy="1275.9" r="9.8"/>
<circle cx="327.7" cy="1289.5" r="9.8"/>
<circle cx="369.5" cy="1326.0" r="9.8"/>
<circle cx="307.2" cy="1308.4" r="9.8"/>
<circle cx="244.1" cy="1363.0" r="9.8"/>
<circle cx="422.3" cy="1386.0" r="9.8"/>
<circle cx="384.4" cy="1370.9" r="9.8"/>
<circle cx="369.8" cy="1381.4" r="9.8"/>
<circle cx="364.2" cy="1365.6" r="9.8"/>
<circle cx="329.7" cy="1373.9" r="9.8"/>
<circle cx="448.4" cy="1379.2" r="9.8"/>
<circle cx="333.0" cy="1369.5" r="9.8"/>
<circle cx="239.4" cy="1361.0" r="9.8"/>
<circle cx="337.6" cy="1371.2" r="9.8"/>
<circle cx="318.1" cy="1391.5" r="9.8"/>
<circle cx="351.5" cy="1379.8" r="9.8"/>
<circle cx="285.2" cy="1360.8" r="9.8"/>
<circle cx="305.6" cy="1364.8" r="9.8"/>
<circle cx="255.7" cy="1288.9" r="9.8"/>
<circle cx="261.1" cy="1298.2" r="9.8"/>
<circle cx="271.8" cy="1214.2" r="9.8"/>
<circle cx="246.3" cy="1334.6" r="9.8"/>
<circle cx="256.5" cy="1240.5" r="9.8"/>
<circle cx="287.2" cy="1277.3" r="9.8"/>
<circle cx="280.6" cy="1278.3" r="9.8"/>
<circle cx="272.3" cy="1227.5" r="9.8"/>
<circle cx="272.2" cy="1339.4" r="9.8"/>
<circle cx="267.5" cy="1319.6" r="9.8"/>
<circle cx="273.7" cy="1214.0" r="9.8"/>
<circle cx="277.3" cy="1296.2" r="9.8"/>
<circle cx="258.3" cy="1208.8" r="9.8"/>
<circle cx="281.8" cy="1277.7" r="9.8"/>
<circle cx="275.7" cy="1341.1" r="9.8"/>
<circle cx="275.5" cy="1347.7" r="9.8"/>
<circle cx="262.2" cy="1328.9" r="9.8"/>
<circle cx="264.3" cy="1349.9" r="9.8"/>
<circle cx="282.3" cy="1219.2" r="9.8"/>
<circle cx="251.4" cy="1237.8" r="9.8"/>
<circle cx="285.9" cy="1272.0" r="9.8"/>
<circle cx="271.8" cy="1251.0" r="9.8"/>
<circle cx="266.9" cy="1264.2" r="9.8"/>
<circle cx="260.4" cy="1295.3" r="9.8"/>
<circle cx="270.1" cy="1345.0" r="9.8"/>
<circle cx="408.5" cy="1336.0" r="9.8"/>
<circle cx="427.5" cy="1348.4" r="9.8"/>
<circle cx="421.4" cy="1347.2" r="9.8"/>
<circle cx="343.2" cy="1318.9" r="9.8"/>
<circle cx="443.8" cy="1330.2" r="9.8"/>
<circle cx="439.1" cy="1297.0" r="9.8"/>
<circle cx="391.6" cy="1305.3" r="9.8"/>
<circle cx="399.8" cy="1325.6" r="9.8"/>
<circle cx="341.4" cy="1303.4" r="9.8"/>
<circle cx="370.7" cy="1346.8" r="9.8"/>
<circle cx="424.2" cy="1299.9" r="9.8"/>
<circle cx="427.7" cy="1298.6" r="9.8"/>
<circle cx="407.9" cy="1297.9" r="9.8"/>
<circle cx="340.2" cy="1344.0" r="9.8"/>
<circle cx="363.0" cy="1303.4" r="9.8"/>
<circle cx="448.1" cy="1344.1" r="9.8"/>
<circle cx="371.8" cy="1349.6" r="9.8"/>
<circle cx="399.3" cy="1332.0" r="9.8"/>
<circle cx="362.5" cy="1348.3" r="9.8"/>
<circle cx="416.0" cy="1349.9" r="9.8"/>
</g>
<g fill="#9370db" fill-opacity="0.5" stroke="#9370db" stroke-opacity="0.5" stroke-width="1">
<circle cx="251.4" cy="1194.1" r="7.0"/>
<circle cx="236.6" cy="1222.3" r="7.0"/>
<circle cx="280.1" cy="1208.1" r="7.0"/>
<circle cx="268.4" cy="1215.1" r="7.0"/>
<circle cx="272.3" cy="1217.7" r="7.0"/>
<circle cx="272.3" cy="1230.7" r="7.0"/>
<circle cx="256.3" cy="1238.9" r="7.0"/>
<circle cx="272.3" cy="1244.5" r="7.0"/>
<circle cx="272.3" cy="1257.5" r="7.0"/>
<circle cx="323.0" cy="1253.9" r="7.0"/>
<circle cx="329.5" cy="1266.2" r="7.0"/>
<circle cx="333.0" cy="1274.9" r="7.0"/>
<circle cx="339.9" cy="1274.0" r="7.0"/>
<circle cx="256.3" cy="1283.5" r="7.0"/>
<circle cx="268.9" cy="1275.7" r="7.0"/>
<circle cx="272.3" cy="1275.7" r="7.0"/>
<circle cx="242.7" cy="1294.1" r="7.0"/>
<circle cx="272.3" cy="1287.9" r="7.0"/>
<circle cx="272.3" cy="1298.2" r="7.0"/>
<circle cx="256.3" cy="1305.6" r="7.0"/>
<circle cx="256.3" cy="1313.8" r="7.0"/>
<circle cx="272.3" cy="1317.3" r="7.0"/>
<circle cx="300.9" cy="1299.1" r="7.0"/>
<circle cx="315.6" cy="1306.9" r="7.0"/>
<circle cx="328.6" cy="1303.4" r="7.0"/>
<circle cx="337.3" cy="1294.8" r="7.0"/>
<circle cx="308.7" cy="1317.3" r="7.0"/>
<circle cx="333.0" cy="1172.6" r="7.0"/>
<circle cx="339.9" cy="1203.8" r="7.0"/>
<circle cx="265.4" cy="1324.2" r="7.0"/>
<circle cx="318.2" cy="1322.5" r="7.0"/>
<circle cx="335.6" cy="1319.0" r="7.0"/>
<circle cx="389.8" cy="1179.5" r="7.0"/>
<circle cx="456.3" cy="1166.6" r="7.0"/>
<circle cx="345.5" cy="1203.4" r="7.0"/>
<circle cx="458.5" cy="1216.2" r="7.0"/>
<circle cx="356.6" cy="1231.3" r="7.0"/>
<circle cx="366.3" cy="1239.3" r="7.0"/>
<circle cx="373.4" cy="1246.4" r="7.0"/>
<circle cx="391.2" cy="1246.8" r="7.0"/>
<circle cx="347.7" cy="1262.3" r="7.0"/>
<circle cx="382.3" cy="1271.2" r="7.0"/>
<circle cx="407.1" cy="1274.8" r="7.0"/>
<circle cx="356.6" cy="1273.0" r="7.0"/>
<circle cx="365.5" cy="1277.4" r="7.0"/>
<circle cx="356.6" cy="1286.3" r="7.0"/>
<circle cx="347.7" cy="1296.9" r="7.0"/>
<circle cx="363.7" cy="1296.0" r="7.0"/>
<circle cx="376.1" cy="1296.0" r="7.0"/>
<circle cx="379.6" cy="1290.7" r="7.0"/>
<circle cx="355.7" cy="1304.0" r="7.0"/>
<circle cx="391.2" cy="1306.7" r="7.0"/>
<circle cx="407.1" cy="1310.2" r="7.0"/>
<circle cx="428.4" cy="1320.0" r="7.0"/>
<circle cx="262.5" cy="1023.3" r="7.0"/>
<circle cx="294.6" cy="1041.1" r="7.0"/>
<circle cx="355.2" cy="1070.6" r="7.0"/>
<circle cx="329.2" cy="1132.8" r="7.0"/>
<circle cx="362.7" cy="1128.1" r="7.0"/>
<circle cx="265.1" cy="1162.1" r="7.0"/>
<circle cx="346.6" cy="1324.1" r="7.0"/>
<circle cx="318.0" cy="1334.5" r="7.0"/>
<circle cx="322.3" cy="1334.5" r="7.0"/>
<circle cx="313.6" cy="1333.6" r="7.0"/>
<circle cx="335.3" cy="1342.3" r="7.0"/>
<circle cx="381.2" cy="1337.1" r="7.0"/>
<circle cx="396.8" cy="1339.7" r="7.0"/>
<circle cx="409.0" cy="1342.3" r="7.0"/>
<circle cx="428.0" cy="1322.4" r="7.0"/>
<circle cx="248.7" cy="1342.3" r="7.0"/>
<circle cx="295.4" cy="1345.8" r="7.0"/>
<circle cx="398.6" cy="1375.2" r="7.0"/>
<circle cx="320.6" cy="1381.3" r="7.0"/>
<circle cx="248.7" cy="1378.7" r="7.0"/>
<circle cx="272.1" cy="1407.3" r="7.0"/>
<circle cx="272.1" cy="1422.9" r="7.0"/>
<circle cx="355.2" cy="1425.5" r="7.0"/>
<circle cx="201.0" cy="1441.1" r="7.0"/>
<circle cx="181.1" cy="1448.9" r="7.0"/>
<circle cx="272.1" cy="1470.6" r="7.0"/>
<circle cx="261.7" cy="1369.2" r="7.0"/>
<circle cx="279.0" cy="1364.0" r="7.0"/>
<circle cx="296.3" cy="1357.0" r="7.0"/>
<circle cx="322.3" cy="1360.5" r="7.0"/>
<circle cx="348.3" cy="1360.5" r="7.0"/>
<circle cx="374.3" cy="1360.5" r="7.0"/>
<circle cx="400.3" cy="1358.8" r="7.0"/>
<circle cx="426.3" cy="1358.8" r="7.0"/>
<circle cx="443.6" cy="1360.5" r="7.0"/>
<circle cx="253.0" cy="1360.5" r="7.0"/>
<circle cx="533.1" cy="989.1" r="7.0"/>
<circle cx="571.2" cy="1064.5" r="7.0"/>
<circle cx="588.5" cy="1075.3" r="7.0"/>
<circle cx="533.2" cy="1118.6" r="7.0"/>
<circle cx="477.3" cy="1155.0" r="7.0"/>
<circle cx="531.9" cy="1176.3" r="7.0"/>
<circle cx="467.7" cy="1207.8" r="7.0"/>
<circle cx="482.5" cy="1208.2" r="7.0"/>
<circle cx="557.9" cy="1204.4" r="7.0"/>
<circle cx="632.0" cy="1204.4" r="7.0"/>
<circle cx="568.8" cy="1223.4" r="7.0"/>
<circle cx="503.3" cy="1246.8" r="7.0"/>
<circle cx="531.9" cy="1242.5" r="7.0"/>
<circle cx="535.3" cy="1239.0" r="7.0"/>
<circle cx="547.8" cy="1239.4" r="7.0"/>
<circle cx="601.2" cy="1254.6" r="7.0"/>
<circle cx="601.2" cy="1256.6" r="7.0"/>
<circle cx="511.9" cy="1272.5" r="7.0"/>
<circle cx="548.8" cy="1272.5" r="7.0"/>
<circle cx="524.4" cy="1300.3" r="7.0"/>
<circle cx="554.0" cy="1296.4" r="7.0"/>
<circle cx="556.5" cy="1304.1" r="7.0"/>
<circle cx="599.8" cy="1286.9" r="7.0"/>
<circle cx="603.6" cy="1294.2" r="7.0"/>
<circle cx="492.0" cy="1322.4" r="7.0"/>
<circle cx="513.3" cy="1327.1" r="7.0"/>
<circle cx="601.2" cy="1341.3" r="7.0"/>
<circle cx="455.6" cy="1358.8" r="7.0"/>
<circle cx="489.4" cy="1357.5" r="7.0"/>
<circle cx="499.8" cy="1354.0" r="7.0"/>
<circle cx="500.7" cy="1369.6" r="7.0"/>
<circle cx="467.7" cy="1373.1" r="7.0"/>
<circle cx="528.4" cy="1358.8" r="7.0"/>
<circle cx="537.9" cy="1358.8" r="7.0"/>
<circle cx="546.6" cy="1358.3" r="7.0"/>
<circle cx="559.2" cy="1358.8" r="7.0"/>
<circle cx="770.2" cy="1358.7" r="7.0"/>
<circle cx="271.9" cy="834.2" r="7.0"/>
<circle cx="427.3" cy="1331.1" r="7.0"/>
<circle cx="393.4" cy="1303.1" r="7.0"/>
<circle cx="340.0" cy="1323.1" r="7.0"/>
<circle cx="391.7" cy="1328.0" r="7.0"/>
<circle cx="381.0" cy="1328.5" r="7.0"/>
<circle cx="370.0" cy="1330.1" r="7.0"/>
<circle cx="420.3" cy="1310.7" r="7.0"/>
<circle cx="399.2" cy="1324.1" r="7.0"/>
<circle cx="326.9" cy="1261.7" r="7.0"/>
<circle cx="294.0" cy="1287.4" r="7.0"/>
<circle cx="363.7" cy="1268.7" r="7.0"/>
<circle cx="340.9" cy="1274.4" r="7.0"/>
<circle cx="367.3" cy="1265.7" r="7.0"/>
<circle cx="318.3" cy="1310.8" r="7.0"/>
<circle cx="375.2" cy="1254.6" r="7.0"/>
<circle cx="347.8" cy="1315.4" r="7.0"/>
<circle cx="337.9" cy="1264.1" r="7.0"/>
<circle cx="342.0" cy="1276.8" r="7.0"/>
<circle cx="378.1" cy="1305.1" r="7.0"/>
<circle cx="338.1" cy="1288.6" r="7.0"/>
<circle cx="233.0" cy="1359.3" r="7.0"/>
<circle cx="244.1" cy="1359.3" r="7.0"/>
<circle cx="255.3" cy="1359.3" r="7.0"/>
<circle cx="266.4" cy="1359.3" r="7.0"/>
<circle cx="277.5" cy="1359.3" r="7.0"/>
<circle cx="288.6" cy="1359.3" r="7.0"/>
<circle cx="299.7" cy="1359.3" r="7.0"/>
<circle cx="310.9" cy="1359.3" r="7.0"/>
<circle cx="322.0" cy="1359.3" r="7.0"/>
<circle cx="333.1" cy="1359.3" r="7.0"/>
<circle cx="344.2" cy="1359.3" r="7.0"/>
<circle cx="355.3" cy="1359.3" r="7.0"/>
<circle cx="366.4" cy="1359.3" r="7.0"/>
<circle cx="377.6" cy="1359.3" r="7.0"/>
<circle cx="388.7" cy="1359.3" r="7.0"/>
<circle cx="399.8" cy="1359.3" r="7.0"/>
<circle cx="410.9" cy="1359.3" r="7.0"/>
<circle cx="422.0" cy="1359.3" r="7.0"/>
<circle cx="433.2" cy="1359.3" r="7.0"/>
<circle cx="444.3" cy="1359.3" r="7.0"/>
<circle cx="455.4" cy="1359.3" r="7.0"/>
<circle cx="466.5" cy="1359.3" r="7.0"/>
<circle cx="477.6" cy="1359.3" r="7.0"/>
<circle cx="488.8" cy="1359.3" r="7.0"/>
<circle cx="499.9" cy="1359.3" r="7.0"/>
<circle cx="511.0" cy="1359.3" r="7.0"/>
<circle cx="522.1" cy="1359.3" r="7.0"/>
<circle cx="533.2" cy="1359.3" r="7.0"/>
<circle cx="544.4" cy="1359.3" r="7.0"/>
<circle cx="555.5" cy="1359.3" r="7.0"/>
<circle cx="581.4" cy="1359.3" r="7.0"/>
<circle cx="606.1" cy="1359.3" r="7.0"/>
<circle cx="643.2" cy="1359.3" r="7.0"/>
<circle cx="667.9" cy="1359.3" r="7.0"/>
<circle cx="705.0" cy="1359.3" r="7.0"/>
<circle cx="754.4" cy="1359.3" r="7.0"/>
<circle cx="272.5" cy="1394.6" r="7.0"/>
<circle cx="272.5" cy="1382.8" r="7.0"/>
<circle cx="272.5" cy="1371.0" r="7.0"/>
<circle cx="272.5" cy="1359.3" r="7.0"/>
<circle cx="272.5" cy="1347.5" r="7.0"/>
<circle cx="272.5" cy="1335.7" r="7.0"/>
<circle cx="272.5" cy="1323.9" r="7.0"/>
<circle cx="272.5" cy="1312.2" r="7.0"/>
<circle cx="272.5" cy="1300.4" r="7.0"/>
<circle cx="272.5" cy="1288.6" r="7.0"/>
<circle cx="272.5" cy="1276.9" r="7.0"/>
<circle cx="272.5" cy="1265.1" r="7.0"/>
<circle cx="272.5" cy="1253.3" r="7.0"/>
<circle cx="272.5" cy="1241.5" r="7.0"/>
<circle cx="272.5" cy="1229.8" r="7.0"/>
<circle cx="272.5" cy="1218.0" r="7.0"/>
</g>
<g fill="#8b0000" fill-opacity="0.5" stroke="#8b0000" stroke-opacity="0.5" stroke-width="1">
<circle cx="326.6" cy="1157.5" r="3.3"/>
<circle cx="412.1" cy="1188.0" r="3.3"/>
<circle cx="512.0" cy="1197.5" r="3.3"/>
<circle cx="441.6" cy="1213.9" r="3.3"/>
<circle cx="488.2" cy="1235.1" r="3.3"/>
<circle cx="377.5" cy="1237.4" r="3.3"/>
<circle cx="347.6" cy="1245.8" r="3.3"/>
<circle cx="341.3" cy="1250.3" r="3.3"/>
<circle cx="347.6" cy="1250.3" r="3.3"/>
<circle cx="419.8" cy="1239.5" r="3.3"/>
<circle cx="378.6" cy="1253.9" r="3.3"/>
<circle cx="446.6" cy="1252.6" r="3.3"/>
<circle cx="422.8" cy="1262.3" r="3.3"/>
<circle cx="437.7" cy="1262.3" r="3.3"/>
<circle cx="449.1" cy="1263.2" r="3.3"/>
<circle cx="418.0" cy="1270.3" r="3.3"/>
<circle cx="436.6" cy="1272.9" r="3.3"/>
<circle cx="357.4" cy="1273.9" r="3.3"/>
<circle cx="373.6" cy="1277.5" r="3.3"/>
<circle cx="381.3" cy="1280.7" r="3.3"/>
<circle cx="382.5" cy="1287.5" r="3.3"/>
<circle cx="488.7" cy="1282.5" r="3.3"/>
<circle cx="497.1" cy="1291.8" r="3.3"/>
<circle cx="423.2" cy="1291.8" r="3.3"/>
<circle cx="301.9" cy="1287.9" r="3.3"/>
<circle cx="280.4" cy="1297.7" r="3.3"/>
<circle cx="430.5" cy="1303.7" r="3.3"/>
<circle cx="310.9" cy="1301.3" r="3.3"/>
<circle cx="317.2" cy="1307.6" r="3.3"/>
<circle cx="304.6" cy="1311.2" r="3.3"/>
<circle cx="332.7" cy="1294.2" r="3.3"/>
<circle cx="344.9" cy="1296.5" r="3.3"/>
<circle cx="349.4" cy="1298.6" r="3.3"/>
<circle cx="359.2" cy="1297.7" r="3.3"/>
<circle cx="380.4" cy="1308.0" r="3.3"/>
<circle cx="516.8" cy="1304.9" r="3.3"/>
<circle cx="545.5" cy="1314.2" r="3.3"/>
<circle cx="321.6" cy="1317.4" r="3.3"/>
<circle cx="324.3" cy="1312.1" r="3.3"/>
<circle cx="330.6" cy="1313.9" r="3.3"/>
<circle cx="336.0" cy="1316.5" r="3.3"/>
<circle cx="355.3" cy="1315.1" r="3.3"/>
<circle cx="288.5" cy="1321.0" r="3.3"/>
<circle cx="278.7" cy="1321.0" r="3.3"/>
<circle cx="293.0" cy="1328.2" r="3.3"/>
<circle cx="293.0" cy="1333.6" r="3.3"/>
<circle cx="301.9" cy="1322.8" r="3.3"/>
<circle cx="304.6" cy="1327.3" r="3.3"/>
<circle cx="365.5" cy="1321.0" r="3.3"/>
<circle cx="361.0" cy="1328.2" r="3.3"/>
<circle cx="364.6" cy="1329.1" r="3.3"/>
<circle cx="380.7" cy="1323.7" r="3.3"/>
<circle cx="433.0" cy="1328.2" r="3.3"/>
<circle cx="447.9" cy="1329.1" r="3.3"/>
<circle cx="495.9" cy="1320.1" r="3.3"/>
<circle cx="521.8" cy="1329.4" r="3.3"/>
<circle cx="493.6" cy="1333.0" r="3.3"/>
<circle cx="520.4" cy="1336.6" r="3.3"/>
<circle cx="318.1" cy="1338.0" r="3.3"/>
<circle cx="344.9" cy="1334.5" r="3.3"/>
<circle cx="347.6" cy="1341.6" r="3.3"/>
<circle cx="368.2" cy="1336.2" r="3.3"/>
<circle cx="279.5" cy="1347.0" r="3.3"/>
<circle cx="284.9" cy="1343.4" r="3.3"/>
<circle cx="296.6" cy="1350.6" r="3.3"/>
<circle cx="307.3" cy="1347.0" r="3.3"/>
<circle cx="315.4" cy="1348.8" r="3.3"/>
<circle cx="332.4" cy="1344.3" r="3.3"/>
<circle cx="337.8" cy="1347.9" r="3.3"/>
<circle cx="355.7" cy="1343.4" r="3.3"/>
<circle cx="356.6" cy="1348.8" r="3.3"/>
<circle cx="365.5" cy="1344.3" r="3.3"/>
<circle cx="387.0" cy="1341.6" r="3.3"/>
<circle cx="392.4" cy="1348.8" r="3.3"/>
<circle cx="367.3" cy="1351.5" r="3.3"/>
<circle cx="470.3" cy="1345.6" r="3.3"/>
<circle cx="536.9" cy="1347.9" r="3.3"/>
<circle cx="547.8" cy="1277.5" r="3.3"/>
<circle cx="536.5" cy="1244.6" r="3.3"/>
<circle cx="412.1" cy="995.0" r="3.3"/>
<circle cx="272.4" cy="1031.9" r="3.3"/>
<circle cx="272.4" cy="1073.0" r="3.3"/>
<circle cx="272.4" cy="1090.5" r="3.3"/>
<circle cx="167.2" cy="1327.6" r="3.3"/>
<circle cx="178.5" cy="1364.0" r="3.3"/>
<circle cx="162.9" cy="1358.8" r="3.3"/>
<circle cx="320.6" cy="1367.4" r="3.3"/>
<circle cx="326.6" cy="1383.0" r="3.3"/>
<circle cx="383.0" cy="1380.4" r="3.3"/>
<circle cx="245.2" cy="1383.9" r="3.3"/>
<circle cx="267.7" cy="1381.3" r="3.3"/>
<circle cx="247.8" cy="1364.8" r="3.3"/>
<circle cx="253.9" cy="1364.0" r="3.3"/>
<circle cx="398.6" cy="1364.0" r="3.3"/>
<circle cx="276.4" cy="1395.2" r="3.3"/>
<circle cx="272.9" cy="1437.6" r="3.3"/>
<circle cx="311.9" cy="1454.1" r="3.3"/>
<circle cx="589.9" cy="1320.2" r="3.3"/>
<circle cx="661.8" cy="1338.9" r="3.3"/>
<circle cx="533.2" cy="1367.3" r="3.3"/>
<circle cx="537.1" cy="1372.2" r="3.3"/>
<circle cx="780.1" cy="1306.0" r="3.3"/>
<circle cx="447.4" cy="839.3" r="3.3"/>
<circle cx="546.3" cy="954.9" r="3.3"/>
</g>
<g fill="#8b0000" fill-opacity="0.5" stroke="#8b0000" stroke-opacity="0.5" stroke-width="1">
<circle cx="161.4" cy="1359.3" r="3.63"/>
<circle cx="163.8" cy="1359.3" r="3.63"/>
<circle cx="212.0" cy="1359.3" r="3.63"/>
<circle cx="220.7" cy="1359.3" r="3.63"/>
<circle cx="230.5" cy="1359.3" r="3.63"/>
<circle cx="236.7" cy="1359.3" r="3.63"/>
<circle cx="241.7" cy="1359.3" r="3.63"/>
<circle cx="245.4" cy="1359.3" r="3.63"/>
<circle cx="247.8" cy="1359.3" r="3.63"/>
<circle cx="249.3" cy="1359.3" r="3.63"/>
<circle cx="250.8" cy="1359.3" r="3.63"/>
<circle cx="252.3" cy="1359.3" r="3.63"/>
<circle cx="253.8" cy="1359.3" r="3.63"/>
<circle cx="255.3" cy="1359.3" r="3.63"/>
<circle cx="256.7" cy="1359.3" r="3.63"/>
<circle cx="258.2" cy="1359.3" r="3.63"/>
<circle cx="259.7" cy="1359.3" r="3.63"/>
<circle cx="261.2" cy="1359.3" r="3.63"/>
<circle cx="262.7" cy="1359.3" r="3.63"/>
<circle cx="264.1" cy="1359.3" r="3.63"/>
<circle cx="265.6" cy="1359.3" r="3.63"/>
<circle cx="267.1" cy="1359.3" r="3.63"/>
<circle cx="268.6" cy="1359.3" r="3.63"/>
<circle cx="270.1" cy="1359.3" r="3.63"/>
<circle cx="271.6" cy="1359.3" r="3.63"/>
<circle cx="273.0" cy="1359.3" r="3.63"/>
<circle cx="274.5" cy="1359.3" r="3.63"/>
<circle cx="276.0" cy="1359.3" r="3.63"/>
<circle cx="277.5" cy="1359.3" r="3.63"/>
<circle cx="279.0" cy="1359.3" r="3.63"/>
<circle cx="280.5" cy="1359.3" r="3.63"/>
<circle cx="281.9" cy="1359.3" r="3.63"/>
<circle cx="283.4" cy="1359.3" r="3.63"/>
<circle cx="284.9" cy="1359.3" r="3.63"/>
<circle cx="286.4" cy="1359.3" r="3.63"/>
<circle cx="287.9" cy="1359.3" r="3.63"/>
<circle cx="289.4" cy="1359.3" r="3.63"/>
<circle cx="290.8" cy="1359.3" r="3.63"/>
<circle cx="292.3" cy="1359.3" r="3.63"/>
<circle cx="293.8" cy="1359.3" r="3.63"/>
<circle cx="295.3" cy="1359.3" r="3.63"/>
<circle cx="296.8" cy="1359.3" r="3.63"/>
<circle cx="298.2" cy="1359.3" r="3.63"/>
<circle cx="299.7" cy="1359.3" r="3.63"/>
<circle cx="301.2" cy="1359.3" r="3.63"/>
<circle cx="302.7" cy="1359.3" r="3.63"/>
<circle cx="304.2" cy="1359.3" r="3.63"/>
<circle cx="305.7" cy="1359.3" r="3.63"/>
<circle cx="307.1" cy="1359.3" r="3.63"/>
<circle cx="308.6" cy="1359.3" r="3.63"/>
<circle cx="310.1" cy="1359.3" r="3.63"/>
<circle cx="311.6" cy="1359.3" r="3.63"/>
<circle cx="313.1" cy="1359.3" r="3.63"/>
<circle cx="314.6" cy="1359.3" r="3.63"/>
<circle cx="316.0" cy="1359.3" r="3.63"/>
<circle cx="317.5" cy="1359.3" r="3.63"/>
<circle cx="319.0" cy="1359.3" r="3.63"/>
<circle cx="320.5" cy="1359.3" r="3.63"/>
<circle cx="322.0" cy="1359.3" r="3.63"/>
<circle cx="323.5" cy="1359.3" r="3.63"/>
<circle cx="324.9" cy="1359.3" r="3.63"/>
<circle cx="326.4" cy="1359.3" r="3.63"/>
<circle cx="327.9" cy="1359.3" r="3.63"/>
<circle cx="329.4" cy="1359.3" r="3.63"/>
<circle cx="330.9" cy="1359.3" r="3.63"/>
<circle cx="332.3" cy="1359.3" r="3.63"/>
<circle cx="333.8" cy="1359.3" r="3.63"/>
<circle cx="335.3" cy="1359.3" r="3.63"/>
<circle cx="336.8" cy="1359.3" r="3.63"/>
<circle cx="338.3" cy="1359.3" r="3.63"/>
<circle cx="339.8" cy="1359.3" r="3.63"/>
<circle cx="341.2" cy="1359.3" r="3.63"/>
<circle cx="342.7" cy="1359.3" r="3.63"/>
<circle cx="344.2" cy="1359.3" r="3.63"/>
<circle cx="345.7" cy="1359.3" r="3.63"/>
<circle cx="347.2" cy="1359.3" r="3.63"/>
<circle cx="348.7" cy="1359.3" r="3.63"/>
<circle cx="350.1" cy="1359.3" r="3.63"/>
<circle cx="351.6" cy="1359.3" r="3.63"/>
<circle cx="353.1" cy="1359.3" r="3.63"/>
<circle cx="354.6" cy="1359.3" r="3.63"/>
<circle cx="356.1" cy="1359.3" r="3.63"/>
<circle cx="357.6" cy="1359.3" r="3.63"/>
<circle cx="359.0" cy="1359.3" r="3.63"/>
<circle cx="360.5" cy="1359.3" r="3.63"/>
<circle cx="362.0" cy="1359.3" r="3.63"/>
<circle cx="363.5" cy="1359.3" r="3.63"/>
<circle cx="365.0" cy="1359.3" r="3.63"/>
<circle cx="366.4" cy="1359.3" r="3.63"/>
<circle cx="367.9" cy="1359.3" r="3.63"/>
<circle cx="369.4" cy="1359.3" r="3.63"/>
<circle cx="370.9" cy="1359.3" r="3.63"/>
<circle cx="372.4" cy="1359.3" r="3.63"/>
<circle cx="373.9" cy="1359.3" r="3.63"/>
<circle cx="375.3" cy="1359.3" r="3.63"/>
<circle cx="376.8" cy="1359.3" r="3.63"/>
<circle cx="378.3" cy="1359.3" r="3.63"/>
<circle cx="379.8" cy="1359.3" r="3.63"/>
<circle cx="381.3" cy="1359.3" r="3.63"/>
<circle cx="382.8" cy="1359.3" r="3.63"/>
<circle cx="384.2" cy="1359.3" r="3.63"/>
<circle cx="385.7" cy="1359.3" r="3.63"/>
<circle cx="387.2" cy="1359.3" r="3.63"/>
<circle cx="388.7" cy="1359.3" r="3.63"/>
<circle cx="390.2" cy="1359.3" r="3.63"/>
<circle cx="391.7" cy="1359.3" r="3.63"/>
<circle cx="393.1" cy="1359.3" r="3.63"/>
<circle cx="394.6" cy="1359.3" r="3.63"/>
<circle cx="396.1" cy="1359.3" r="3.63"/>
<circle cx="397.6" cy="1359.3" r="3.63"/>
<circle cx="399.1" cy="1359.3" r="3.63"/>
<circle cx="400.5" cy="1359.3" r="3.63"/>
<circle cx="402.0" cy="1359.3" r="3.63"/>
<circle cx="403.5" cy="1359.3" r="3.63"/>
<circle cx="405.0" cy="1359.3" r="3.63"/>
<circle cx="406.5" cy="1359.3" r="3.63"/>
<circle cx="408.0" cy="1359.3" r="3.63"/>
<circle cx="409.4" cy="1359.3" r="3.63"/>
<circle cx="410.9" cy="1359.3" r="3.63"/>
<circle cx="412.4" cy="1359.3" r="3.63"/>
<circle cx="413.9" cy="1359.3" r="3.63"/>
<circle cx="415.4" cy="1359.3" r="3.63"/>
<circle cx="416.9" cy="1359.3" r="3.63"/>
<circle cx="418.3" cy="1359.3" r="3.63"/>
<circle cx="419.8" cy="1359.3" r="3.63"/>
<circle cx="421.3" cy="1359.3" r="3.63"/>
<circle cx="422.8" cy="1359.3" r="3.63"/>
<circle cx="424.3" cy="1359.3" r="3.63"/>
<circle cx="425.8" cy="1359.3" r="3.63"/>
<circle cx="427.2" cy="1359.3" r="3.63"/>
<circle cx="428.7" cy="1359.3" r="3.63"/>
<circle cx="430.2" cy="1359.3" r="3.63"/>
<circle cx="431.7" cy="1359.3" r="3.63"/>
<circle cx="433.2" cy="1359.3" r="3.63"/>
<circle cx="434.6" cy="1359.3" r="3.63"/>
<circle cx="436.1" cy="1359.3" r="3.63"/>
<circle cx="437.6" cy="1359.3" r="3.63"/>
<circle cx="439.1" cy="1359.3" r="3.63"/>
<circle cx="440.6" cy="1359.3" r="3.63"/>
<circle cx="442.1" cy="1359.3" r="3.63"/>
<circle cx="443.5" cy="1359.3" r="3.63"/>
<circle cx="445.0" cy="1359.3" r="3.63"/>
<circle cx="446.5" cy="1359.3" r="3.63"/>
<circle cx="448.0" cy="1359.3" r="3.63"/>
<circle cx="449.5" cy="1359.3" r="3.63"/>
<circle cx="451.0" cy="1359.3" r="3.63"/>
<circle cx="452.4" cy="1359.3" r="3.63"/>
<circle cx="453.9" cy="1359.3" r="3.63"/>
<circle cx="455.4" cy="1359.3" r="3.63"/>
<circle cx="456.9" cy="1359.3" r="3.63"/>
<circle cx="458.4" cy="1359.3" r="3.63"/>
<circle cx="459.9" cy="1359.3" r="3.63"/>
<circle cx="461.3" cy="1359.3" r="3.63"/>
<circle cx="462.8" cy="1359.3" r="3.63"/>
<circle cx="464.3" cy="1359.3" r="3.63"/>
<circle cx="465.8" cy="1359.3" r="3.63"/>
<circle cx="467.3" cy="1359.3" r="3.63"/>
<circle cx="468.7" cy="1359.3" r="3.63"/>
<circle cx="470.2" cy="1359.3" r="3.63"/>
<circle cx="471.7" cy="1359.3" r="3.63"/>
<circle cx="473.2" cy="1359.3" r="3.63"/>
<circle cx="474.7" cy="1359.3" r="3.63"/>
<circle cx="476.2" cy="1359.3" r="3.63"/>
<circle cx="477.6" cy="1359.3" r="3.63"/>
<circle cx="479.1" cy="1359.3" r="3.63"/>
<circle cx="480.6" cy="1359.3" r="3.63"/>
<circle cx="482.1" cy="1359.3" r="3.63"/>
<circle cx="483.6" cy="1359.3" r="3.63"/>
<circle cx="485.1" cy="1359.3" r="3.63"/>
<circle cx="486.5" cy="1359.3" r="3.63"/>
<circle cx="488.0" cy="1359.3" r="3.63"/>
<circle cx="489.5" cy="1359.3" r="3.63"/>
<circle cx="491.0" cy="1359.3" r="3.63"/>
<circle cx="492.5" cy="1359.3" r="3.63"/>
<circle cx="494.0" cy="1359.3" r="3.63"/>
<circle cx="498.6" cy="1359.3" r="3.63"/>
<circle cx="502.4" cy="1359.3" r="3.63"/>
<circle cx="506.1" cy="1359.3" r="3.63"/>
<circle cx="509.8" cy="1359.3" r="3.63"/>
<circle cx="518.4" cy="1359.3" r="3.63"/>
<circle cx="522.1" cy="1359.3" r="3.63"/>
<circle cx="525.8" cy="1359.3" r="3.63"/>
<circle cx="528.3" cy="1359.3" r="3.63"/>
<circle cx="534.5" cy="1359.3" r="3.63"/>
<circle cx="536.9" cy="1359.3" r="3.63"/>
<circle cx="540.7" cy="1359.3" r="3.63"/>
<circle cx="544.4" cy="1359.3" r="3.63"/>
<circle cx="558.0" cy="1359.3" r="3.63"/>
<circle cx="560.4" cy="1359.3" r="3.63"/>
<circle cx="564.1" cy="1359.3" r="3.63"/>
<circle cx="567.8" cy="1359.3" r="3.63"/>
<circle cx="575.2" cy="1359.3" r="3.63"/>
<circle cx="577.7" cy="1359.3" r="3.63"/>
<circle cx="580.2" cy="1359.3" r="3.63"/>
<circle cx="585.1" cy="1359.3" r="3.63"/>
<circle cx="588.8" cy="1359.3" r="3.63"/>
<circle cx="591.3" cy="1359.3" r="3.63"/>
<circle cx="593.8" cy="1359.3" r="3.63"/>
<circle cx="596.3" cy="1359.3" r="3.63"/>
<circle cx="600.0" cy="1359.3" r="3.63"/>
<circle cx="602.4" cy="1359.3" r="3.63"/>
<circle cx="619.7" cy="1359.3" r="3.63"/>
<circle cx="623.4" cy="1359.3" r="3.63"/>
<circle cx="627.1" cy="1359.3" r="3.63"/>
<circle cx="630.8" cy="1359.3" r="3.63"/>
<circle cx="648.1" cy="1359.3" r="3.63"/>
<circle cx="651.8" cy="1359.3" r="3.63"/>
<circle cx="655.6" cy="1359.3" r="3.63"/>
<circle cx="664.2" cy="1359.3" r="3.63"/>
<circle cx="666.7" cy="1359.3" r="3.63"/>
<circle cx="669.1" cy="1359.3" r="3.63"/>
<circle cx="687.7" cy="1359.3" r="3.63"/>
<circle cx="691.4" cy="1359.3" r="3.63"/>
<circle cx="695.1" cy="1359.3" r="3.63"/>
<circle cx="705.0" cy="1359.3" r="3.63"/>
<circle cx="714.9" cy="1359.3" r="3.63"/>
<circle cx="727.2" cy="1359.3" r="3.63"/>
<circle cx="728.4" cy="1359.3" r="3.63"/>
<circle cx="739.6" cy="1359.3" r="3.63"/>
<circle cx="743.3" cy="1359.3" r="3.63"/>
<circle cx="750.7" cy="1359.3" r="3.63"/>
<circle cx="751.9" cy="1359.3" r="3.63"/>
<circle cx="769.2" cy="1359.3" r="3.63"/>
<circle cx="772.9" cy="1359.3" r="3.63"/>
<circle cx="784.0" cy="1359.3" r="3.63"/>
<circle cx="272.5" cy="1156.8" r="3.63"/>
<circle cx="272.5" cy="1258.0" r="3.63"/>
<circle cx="272.5" cy="1261.3" r="3.63"/>
<circle cx="272.5" cy="1264.6" r="3.63"/>
<circle cx="272.5" cy="1267.9" r="3.63"/>
<circle cx="272.5" cy="1271.2" r="3.63"/>
<circle cx="272.5" cy="1274.5" r="3.63"/>
<circle cx="272.5" cy="1277.8" r="3.63"/>
<circle cx="272.5" cy="1281.1" r="3.63"/>
<circle cx="272.5" cy="1284.4" r="3.63"/>
<circle cx="272.5" cy="1287.7" r="3.63"/>
<circle cx="272.5" cy="1291.0" r="3.63"/>
<circle cx="272.5" cy="1294.3" r="3.63"/>
<circle cx="272.5" cy="1297.6" r="3.63"/>
<circle cx="272.5" cy="1300.9" r="3.63"/>
<circle cx="272.5" cy="1304.2" r="3.63"/>
<circle cx="272.5" cy="1307.5" r="3.63"/>
<circle cx="272.5" cy="1310.8" r="3.63"/>
<circle cx="272.5" cy="1312.2" r="3.63"/>
<circle cx="272.5" cy="1313.5" r="3.63"/>
<circle cx="272.5" cy="1314.8" r="3.63"/>
<circle cx="272.5" cy="1316.1" r="3.63"/>
<circle cx="272.5" cy="1317.4" r="3.63"/>
<circle cx="272.5" cy="1318.6" r="3.63"/>
<circle cx="272.5" cy="1319.9" r="3.63"/>
<circle cx="272.5" cy="1321.2" r="3.63"/>
<circle cx="272.5" cy="1322.5" r="3.63"/>
<circle cx="272.5" cy="1323.8" r="3.63"/>
<circle cx="272.5" cy="1325.1" r="3.63"/>
<circle cx="272.5" cy="1326.4" r="3.63"/>
<circle cx="272.5" cy="1327.7" r="3.63"/>
<circle cx="272.5" cy="1329.0" r="3.63"/>
<circle cx="272.5" cy="1330.3" r="3.63"/>
<circle cx="272.5" cy="1331.6" r="3.63"/>
<circle cx="272.5" cy="1332.9" r="3.63"/>
<circle cx="272.5" cy="1334.2" r="3.63"/>
<circle cx="272.5" cy="1335.5" r="3.63"/>
<circle cx="272.5" cy="1336.8" r="3.63"/>
<circle cx="272.5" cy="1338.1" r="3.63"/>
<circle cx="272.5" cy="1339.4" r="3.63"/>
<circle cx="272.5" cy="1340.7" r="3.63"/>
<circle cx="272.5" cy="1342.0" r="3.63"/>
<circle cx="272.5" cy="1343.3" r="3.63"/>
<circle cx="272.5" cy="1344.5" r="3.63"/>
<circle cx="272.5" cy="1345.8" r="3.63"/>
<circle cx="272.5" cy="1347.1" r="3.63"/>
<circle cx="272.5" cy="1348.4" r="3.63"/>
<circle cx="272.5" cy="1349.7" r="3.63"/>
<circle cx="272.5" cy="1351.0" r="3.63"/>
<circle cx="272.5" cy="1352.3" r="3.63"/>
<circle cx="272.5" cy="1353.6" r="3.63"/>
<circle cx="272.5" cy="1354.9" r="3.63"/>
<circle cx="272.5" cy="1356.2" r="3.63"/>
<circle cx="272.5" cy="1357.5" r="3.63"/>
<circle cx="272.5" cy="1358.8" r="3.63"/>
<circle cx="272.5" cy="1360.1" r="3.63"/>
<circle cx="272.5" cy="1361.4" r="3.63"/>
<circle cx="272.5" cy="1362.7" r="3.63"/>
<circle cx="272.5" cy="1364.0" r="3.63"/>
<circle cx="272.5" cy="1365.3" r="3.63"/>
<circle cx="272.5" cy="1366.6" r="3.63"/>
<circle cx="272.5" cy="1367.9" r="3.63"/>
<circle cx="272.5" cy="1369.2" r="3.63"/>
<circle cx="272.5" cy="1370.5" r="3.63"/>
<circle cx="272.5" cy="1371.7" r="3.63"/>
<circle cx="272.5" cy="1373.0" r="3.63"/>
<circle cx="272.5" cy="1374.3" r="3.63"/>
<circle cx="272.5" cy="1375.6" r="3.63"/>
<circle cx="272.5" cy="1376.9" r="3.63"/>
<circle cx="272.5" cy="1378.2" r="3.63"/>
<circle cx="272.5" cy="1379.5" r="3.63"/>
<circle cx="272.5" cy="1380.8" r="3.63"/>
<circle cx="272.5" cy="1382.1" r="3.63"/>
<circle cx="272.5" cy="1383.4" r="3.63"/>
<circle cx="272.5" cy="1384.7" r="3.63"/>
<circle cx="272.5" cy="1394.6" r="3.63"/>
<circle cx="272.5" cy="1398.1" r="3.63"/>
<circle cx="272.5" cy="1400.5" r="3.63"/>
<circle cx="272.5" cy="1438.1" r="3.63"/>
</g>
</g>
<line x1="457.5" y1="770.6" x2="457.5" y2="1477.0" stroke="#000" stroke-width="1.2" stroke-dasharray="4.4 2.2"/>
<line x1="149.0" y1="1182.5" x2="890.3" y2="1182.5" stroke="#000" stroke-width="1.2" stroke-dasharray="4.4 2.2"/>
<rect x="149.0" y="770.6" width="741.3" height="706.4" fill="none" stroke="#000" stroke-width="1.1"/>
<line x1="149.0" y1="1477.0" x2="149.0" y2="1481.8" stroke="#000" stroke-width="1.1"/>
<line x1="144.2" y1="1477.0" x2="149.0" y2="1477.0" stroke="#000" stroke-width="1.1"/>
<text x="149.0" y="1508.2" text-anchor="middle" font-size="28.5" fill="#000" font-family="'DejaVu Sans', sans-serif">−1</text>
<text x="139.0" y="1488.2" text-anchor="end" font-size="28.5" fill="#000" font-family="'DejaVu Sans', sans-serif">−1</text>
<line x1="272.5" y1="1477.0" x2="272.5" y2="1481.8" stroke="#000" stroke-width="1.1"/>
<line x1="144.2" y1="1359.3" x2="149.0" y2="1359.3" stroke="#000" stroke-width="1.1"/>
<text x="272.5" y="1508.2" text-anchor="middle" font-size="28.5" fill="#000" font-family="'DejaVu Sans', sans-serif">0</text>
<text x="139.0" y="1370.5" text-anchor="end" font-size="28.5" fill="#000" font-family="'DejaVu Sans', sans-serif">0</text>
<line x1="396.1" y1="1477.0" x2="396.1" y2="1481.8" stroke="#000" stroke-width="1.1"/>
<line x1="144.2" y1="1241.5" x2="149.0" y2="1241.5" stroke="#000" stroke-width="1.1"/>
<text x="396.1" y="1508.2" text-anchor="middle" font-size="28.5" fill="#000" font-family="'DejaVu Sans', sans-serif">1</text>
<text x="139.0" y="1252.7" text-anchor="end" font-size="28.5" fill="#000" font-family="'DejaVu Sans', sans-serif">1</text>
<line x1="519.6" y1="1477.0" x2="519.6" y2="1481.8" stroke="#000" stroke-width="1.1"/>
<line x1="144.2" y1="1123.8" x2="149.0" y2="1123.8" stroke="#000" stroke-width="1.1"/>
<text x="519.6" y="1508.2" text-anchor="middle" font-size="28.5" fill="#000" font-family="'DejaVu Sans', sans-serif">2</text>
<text x="139.0" y="1135.0" text-anchor="end" font-size="28.5" fill="#000" font-family="'DejaVu Sans', sans-serif">2</text>
<line x1="643.2" y1="1477.0" x2="643.2" y2="1481.8" stroke="#000" stroke-width="1.1"/>
<line x1="144.2" y1="1006.1" x2="149.0" y2="1006.1" stroke="#000" stroke-width="1.1"/>
<text x="643.2" y="1508.2" text-anchor="middle" font-size="28.5" fill="#000" font-family="'DejaVu Sans', sans-serif">3</text>
<text x="139.0" y="1017.3" text-anchor="end" font-size="28.5" fill="#000" font-family="'DejaVu Sans', sans-serif">3</text>
<line x1="766.8" y1="1477.0" x2="766.8" y2="1481.8" stroke="#000" stroke-width="1.1"/>
<line x1="144.2" y1="888.3" x2="149.0" y2="888.3" stroke="#000" stroke-width="1.1"/>
<text x="766.8" y="1508.2" text-anchor="middle" font-size="28.5" fill="#000" font-family="'DejaVu Sans', sans-serif">4</text>
<text x="139.0" y="899.5" text-anchor="end" font-size="28.5" fill="#000" font-family="'DejaVu Sans', sans-serif">4</text>
<line x1="890.3" y1="1477.0" x2="890.3" y2="1481.8" stroke="#000" stroke-width="1.1"/>
<line x1="144.2" y1="770.6" x2="149.0" y2="770.6" stroke="#000" stroke-width="1.1"/>
<text x="890.3" y="1508.2" text-anchor="middle" font-size="28.5" fill="#000" font-family="'DejaVu Sans', sans-serif">5</text>
<text x="139.0" y="781.8" text-anchor="end" font-size="28.5" fill="#000" font-family="'DejaVu Sans', sans-serif">5</text>
<text x="519.6" y="762.4" text-anchor="middle" font-size="35.7" fill="#000" font-family="'DejaVu Sans', sans-serif">LNR, receptor</text>
<clipPath id="cpR"><rect x="969.7" y="770.6" width="741.1" height="706.4"/></clipPath>
<g clip-path="url(#cpR)">
<g fill="#90ee90" fill-opacity="0.5" stroke="#90ee90" stroke-opacity="0.5" stroke-width="1">
<circle cx="1107.5" cy="1160.0" r="9.8"/>
<circle cx="1101.4" cy="1192.9" r="9.8"/>
<circle cx="1092.7" cy="1229.3" r="9.8"/>
<circle cx="1080.6" cy="1243.2" r="9.8"/>
<circle cx="1086.7" cy="1267.5" r="9.8"/>
<circle cx="1104.0" cy="1272.7" r="9.8"/>
<circle cx="1107.5" cy="1281.3" r="9.8"/>
<circle cx="1022.5" cy="1272.7" r="9.8"/>
<circle cx="1054.6" cy="1290.0" r="9.8"/>
<circle cx="1072.8" cy="1288.2" r="9.8"/>
<circle cx="1081.5" cy="1281.3" r="9.8"/>
<circle cx="1079.7" cy="1307.3" r="9.8"/>
<circle cx="1093.6" cy="1307.3" r="9.8"/>
<circle cx="1083.2" cy="1321.2" r="9.8"/>
<circle cx="1091.9" cy="1338.5" r="9.8"/>
<circle cx="1104.0" cy="1324.6" r="9.8"/>
<circle cx="1112.7" cy="1316.0" r="9.8"/>
<circle cx="1121.3" cy="1307.3" r="9.8"/>
<circle cx="1130.0" cy="1298.6" r="9.8"/>
<circle cx="1131.7" cy="1286.5" r="9.8"/>
<circle cx="1138.6" cy="1257.1" r="9.8"/>
<circle cx="1156.0" cy="1260.5" r="9.8"/>
<circle cx="1166.4" cy="1255.3" r="9.8"/>
<circle cx="1164.6" cy="1239.7" r="9.8"/>
<circle cx="1149.0" cy="1217.2" r="9.8"/>
<circle cx="1152.5" cy="1227.6" r="9.8"/>
<circle cx="1168.1" cy="1204.2" r="9.8"/>
<circle cx="1182.0" cy="1229.3" r="9.8"/>
<circle cx="1195.8" cy="1232.8" r="9.8"/>
<circle cx="1190.6" cy="1244.9" r="9.8"/>
<circle cx="1204.5" cy="1250.1" r="9.8"/>
<circle cx="1208.0" cy="1257.1" r="9.8"/>
<circle cx="1218.4" cy="1251.9" r="9.8"/>
<circle cx="1206.2" cy="1270.9" r="9.8"/>
<circle cx="1169.8" cy="1284.8" r="9.8"/>
<circle cx="1182.0" cy="1284.8" r="9.8"/>
<circle cx="1190.6" cy="1290.0" r="9.8"/>
<circle cx="1197.6" cy="1298.6" r="9.8"/>
<circle cx="1156.0" cy="1298.6" r="9.8"/>
<circle cx="1147.3" cy="1295.2" r="9.8"/>
<circle cx="1164.6" cy="1307.3" r="9.8"/>
<circle cx="1173.3" cy="1316.0" r="9.8"/>
<circle cx="1182.0" cy="1326.4" r="9.8"/>
<circle cx="1208.0" cy="1316.0" r="9.8"/>
<circle cx="1216.6" cy="1326.4" r="9.8"/>
<circle cx="1225.3" cy="1333.3" r="9.8"/>
<circle cx="1237.4" cy="1340.2" r="9.8"/>
<circle cx="1206.2" cy="1350.6" r="9.8"/>
<circle cx="1199.3" cy="1338.5" r="9.8"/>
<circle cx="1173.3" cy="1342.0" r="9.8"/>
<circle cx="1156.0" cy="1336.8" r="9.8"/>
<circle cx="1164.6" cy="1350.6" r="9.8"/>
<circle cx="1143.8" cy="1342.0" r="9.8"/>
<circle cx="1130.0" cy="1350.6" r="9.8"/>
<circle cx="1117.9" cy="1342.0" r="9.8"/>
<circle cx="1107.5" cy="1359.3" r="9.8"/>
<circle cx="1097.1" cy="1354.1" r="9.8"/>
<circle cx="1083.2" cy="1368.0" r="9.8"/>
<circle cx="1072.8" cy="1361.0" r="9.8"/>
<circle cx="1060.7" cy="1350.6" r="9.8"/>
<circle cx="1057.2" cy="1362.8" r="9.8"/>
<circle cx="1069.3" cy="1376.6" r="9.8"/>
<circle cx="1091.9" cy="1383.6" r="9.8"/>
<circle cx="1104.0" cy="1368.0" r="9.8"/>
<circle cx="1121.3" cy="1359.3" r="9.8"/>
<circle cx="1130.0" cy="1364.5" r="9.8"/>
<circle cx="1149.0" cy="1376.6" r="9.8"/>
<circle cx="1164.6" cy="1385.3" r="9.8"/>
<circle cx="1176.8" cy="1350.6" r="9.8"/>
<circle cx="1185.4" cy="1355.8" r="9.8"/>
<circle cx="1022.5" cy="1381.8" r="9.8"/>
<circle cx="1052.0" cy="1387.0" r="9.8"/>
<circle cx="1059.8" cy="1401.8" r="9.8"/>
<circle cx="1025.1" cy="1416.5" r="9.8"/>
<circle cx="1175.9" cy="1410.4" r="9.8"/>
<circle cx="1240.0" cy="1416.5" r="9.8"/>
<circle cx="1248.7" cy="1437.3" r="9.8"/>
<circle cx="1250.4" cy="1314.2" r="9.8"/>
<circle cx="1254.8" cy="1270.9" r="9.8"/>
<circle cx="1251.3" cy="1277.9" r="9.8"/>
<circle cx="1247.8" cy="1241.5" r="9.8"/>
<circle cx="1256.5" cy="1234.5" r="9.8"/>
<circle cx="1265.2" cy="1253.6" r="9.8"/>
<circle cx="1273.8" cy="1253.6" r="9.8"/>
<circle cx="1284.2" cy="1272.7" r="9.8"/>
<circle cx="1287.7" cy="1286.5" r="9.8"/>
<circle cx="1286.8" cy="1328.1" r="9.8"/>
<circle cx="1294.6" cy="1368.0" r="9.8"/>
<circle cx="1291.2" cy="1227.6" r="9.8"/>
<circle cx="1298.1" cy="1222.4" r="9.8"/>
<circle cx="1256.5" cy="1213.7" r="9.8"/>
<circle cx="1249.6" cy="1196.4" r="9.8"/>
<circle cx="1260.0" cy="1192.9" r="9.8"/>
<circle cx="1268.6" cy="1217.2" r="9.8"/>
<circle cx="1277.3" cy="1179.1" r="9.8"/>
<circle cx="1287.7" cy="1165.2" r="9.8"/>
<circle cx="1294.6" cy="1160.0" r="9.8"/>
<circle cx="1234.0" cy="1160.0" r="9.8"/>
<circle cx="1251.3" cy="1163.5" r="9.8"/>
<circle cx="1232.2" cy="1179.1" r="9.8"/>
<circle cx="1223.6" cy="1220.7" r="9.8"/>
<circle cx="1234.0" cy="1225.9" r="9.8"/>
<circle cx="1205.4" cy="1193.8" r="9.8"/>
<circle cx="1213.2" cy="1194.7" r="9.8"/>
<circle cx="1277.3" cy="1165.2" r="9.8"/>
<circle cx="1254.8" cy="1184.3" r="9.8"/>
<circle cx="1265.2" cy="1187.7" r="9.8"/>
<circle cx="1270.4" cy="1199.9" r="9.8"/>
<circle cx="1095.3" cy="1333.3" r="9.8"/>
<circle cx="1112.7" cy="1333.3" r="9.8"/>
<circle cx="1138.6" cy="1324.6" r="9.8"/>
<circle cx="1152.5" cy="1324.6" r="9.8"/>
<circle cx="1674.1" cy="784.1" r="9.8"/>
<circle cx="1699.8" cy="805.6" r="9.8"/>
<circle cx="1289.2" cy="839.4" r="9.8"/>
<circle cx="1385.2" cy="885.7" r="9.8"/>
<circle cx="1627.8" cy="851.4" r="9.8"/>
<circle cx="1583.2" cy="859.2" r="9.8"/>
<circle cx="1632.5" cy="875.0" r="9.8"/>
<circle cx="1664.7" cy="876.3" r="9.8"/>
<circle cx="1586.7" cy="885.3" r="9.8"/>
<circle cx="1557.5" cy="907.2" r="9.8"/>
<circle cx="1578.1" cy="924.3" r="9.8"/>
<circle cx="1526.2" cy="942.3" r="9.8"/>
<circle cx="1567.4" cy="958.6" r="9.8"/>
<circle cx="1484.2" cy="962.9" r="9.8"/>
<circle cx="1441.8" cy="970.6" r="9.8"/>
<circle cx="1459.8" cy="975.7" r="9.8"/>
<circle cx="1467.5" cy="984.3" r="9.8"/>
<circle cx="1474.8" cy="979.2" r="9.8"/>
<circle cx="1457.6" cy="983.5" r="9.8"/>
<circle cx="1490.2" cy="987.7" r="9.8"/>
<circle cx="1505.6" cy="998.0" r="9.8"/>
<circle cx="1525.4" cy="998.5" r="9.8"/>
<circle cx="1435.4" cy="1008.7" r="9.8"/>
<circle cx="1459.8" cy="1010.9" r="9.8"/>
<circle cx="1451.2" cy="1017.7" r="9.8"/>
<circle cx="1438.4" cy="1025.0" r="9.8"/>
<circle cx="1413.9" cy="1029.3" r="9.8"/>
<circle cx="1356.1" cy="1030.2" r="9.8"/>
<circle cx="1537.8" cy="1031.5" r="9.8"/>
<circle cx="1538.2" cy="1063.6" r="9.8"/>
<circle cx="1201.3" cy="1023.3" r="9.8"/>
<circle cx="1303.8" cy="1066.6" r="9.8"/>
<circle cx="1360.3" cy="1062.3" r="9.8"/>
<circle cx="1351.8" cy="1075.6" r="9.8"/>
<circle cx="1400.6" cy="1071.3" r="9.8"/>
<circle cx="1414.8" cy="1078.6" r="9.8"/>
<circle cx="1403.2" cy="1077.8" r="9.8"/>
<circle cx="1435.4" cy="1066.6" r="9.8"/>
<circle cx="1433.2" cy="1077.8" r="9.8"/>
<circle cx="1452.1" cy="1081.6" r="9.8"/>
<circle cx="1459.8" cy="1088.5" r="9.8"/>
<circle cx="1356.1" cy="1091.5" r="9.8"/>
<circle cx="1384.8" cy="1085.0" r="9.8"/>
<circle cx="1389.1" cy="1093.6" r="9.8"/>
<circle cx="1394.2" cy="1107.8" r="9.8"/>
<circle cx="1384.8" cy="1095.8" r="9.8"/>
<circle cx="1363.3" cy="1106.5" r="9.8"/>
<circle cx="1337.6" cy="1112.9" r="9.8"/>
<circle cx="1324.8" cy="1115.0" r="9.8"/>
<circle cx="1354.8" cy="1121.5" r="9.8"/>
<circle cx="1359.1" cy="1115.0" r="9.8"/>
<circle cx="1621.4" cy="1113.8" r="9.8"/>
<circle cx="1289.2" cy="1117.2" r="9.8"/>
<circle cx="1253.2" cy="1085.0" r="9.8"/>
<circle cx="1315.3" cy="1139.5" r="9.8"/>
<circle cx="1315.3" cy="1146.3" r="9.8"/>
<circle cx="1333.3" cy="1142.1" r="9.8"/>
<circle cx="1311.9" cy="1150.6" r="9.8"/>
<circle cx="1308.9" cy="1170.8" r="9.8"/>
<circle cx="1356.1" cy="1151.5" r="9.8"/>
<circle cx="1356.1" cy="1167.3" r="9.8"/>
<circle cx="1414.8" cy="1150.2" r="9.8"/>
<circle cx="1620.5" cy="1159.2" r="9.8"/>
<circle cx="1571.2" cy="1169.5" r="9.8"/>
<circle cx="1386.9" cy="1175.1" r="9.8"/>
<circle cx="1156.3" cy="1137.3" r="9.8"/>
<circle cx="1107.4" cy="1154.9" r="9.8"/>
<circle cx="1228.3" cy="1148.1" r="9.8"/>
<circle cx="1233.9" cy="1159.2" r="9.8"/>
<circle cx="1271.2" cy="1145.9" r="9.8"/>
<circle cx="1282.8" cy="1151.5" r="9.8"/>
<circle cx="1294.8" cy="1157.9" r="9.8"/>
<circle cx="1303.3" cy="1187.9" r="9.8"/>
<circle cx="1320.5" cy="1183.6" r="9.8"/>
<circle cx="1357.8" cy="1183.6" r="9.8"/>
<circle cx="1381.8" cy="1197.3" r="9.8"/>
<circle cx="1434.1" cy="1214.9" r="9.8"/>
<circle cx="1549.8" cy="1195.2" r="9.8"/>
<circle cx="1307.6" cy="1215.8" r="9.8"/>
<circle cx="1333.3" cy="1258.6" r="9.8"/>
<circle cx="1341.9" cy="1247.9" r="9.8"/>
<circle cx="1399.8" cy="1285.6" r="9.8"/>
<circle cx="1449.9" cy="1322.9" r="9.8"/>
<circle cx="1469.2" cy="1298.5" r="9.8"/>
<circle cx="1554.1" cy="1334.1" r="9.8"/>
<circle cx="1311.9" cy="1358.1" r="9.8"/>
<circle cx="1643.7" cy="1427.1" r="9.8"/>
<circle cx="996.0" cy="1451.1" r="9.8"/>
<circle cx="1333.8" cy="1400.5" r="9.8"/>
<circle cx="1373.2" cy="1398.8" r="9.8"/>
<circle cx="1398.1" cy="1366.7" r="9.8"/>
<circle cx="1135.1" cy="1302.1" r="9.8"/>
<circle cx="1144.3" cy="1305.7" r="9.8"/>
<circle cx="1091.1" cy="1295.9" r="9.8"/>
<circle cx="1164.4" cy="1332.4" r="9.8"/>
<circle cx="1075.6" cy="1334.6" r="9.8"/>
<circle cx="1174.8" cy="1234.8" r="9.8"/>
<circle cx="1168.3" cy="1309.3" r="9.8"/>
<circle cx="1133.2" cy="1338.8" r="9.8"/>
<circle cx="1146.1" cy="1312.6" r="9.8"/>
<circle cx="1142.9" cy="1315.4" r="9.8"/>
<circle cx="1136.0" cy="1265.5" r="9.8"/>
<circle cx="1112.6" cy="1259.2" r="9.8"/>
<circle cx="1186.8" cy="1281.4" r="9.8"/>
<circle cx="1200.0" cy="1279.6" r="9.8"/>
<circle cx="1210.5" cy="1290.4" r="9.8"/>
<circle cx="1072.7" cy="1311.1" r="9.8"/>
<circle cx="1188.8" cy="1264.4" r="9.8"/>
<circle cx="1191.9" cy="1252.4" r="9.8"/>
<circle cx="1152.7" cy="1287.5" r="9.8"/>
<circle cx="1092.1" cy="1324.5" r="9.8"/>
<circle cx="1082.2" cy="1313.0" r="9.8"/>
<circle cx="1079.8" cy="1284.0" r="9.8"/>
<circle cx="1095.7" cy="1264.4" r="9.8"/>
<circle cx="1110.7" cy="1344.3" r="9.8"/>
<circle cx="1095.4" cy="1280.6" r="9.8"/>
<circle cx="1077.2" cy="1357.9" r="9.8"/>
<circle cx="1095.8" cy="1262.9" r="9.8"/>
<circle cx="1187.9" cy="1272.1" r="9.8"/>
</g>
<g fill="#9370db" fill-opacity="0.5" stroke="#9370db" stroke-opacity="0.5" stroke-width="1">
<circle cx="1205.4" cy="1186.0" r="7.0"/>
<circle cx="1247.0" cy="1209.4" r="7.0"/>
<circle cx="1257.4" cy="1205.9" r="7.0"/>
<circle cx="1267.2" cy="1230.5" r="7.0"/>
<circle cx="1292.0" cy="1197.8" r="7.0"/>
<circle cx="1283.0" cy="1253.2" r="7.0"/>
<circle cx="1230.2" cy="1265.7" r="7.0"/>
<circle cx="1215.4" cy="1271.8" r="7.0"/>
<circle cx="1185.4" cy="1272.7" r="7.0"/>
<circle cx="1194.1" cy="1279.1" r="7.0"/>
<circle cx="1170.7" cy="1258.8" r="7.0"/>
<circle cx="1160.8" cy="1269.2" r="7.0"/>
<circle cx="1091.9" cy="1282.2" r="7.0"/>
<circle cx="1121.3" cy="1289.1" r="7.0"/>
<circle cx="1071.9" cy="1298.6" r="7.0"/>
<circle cx="1101.9" cy="1309.4" r="7.0"/>
<circle cx="1153.4" cy="1313.0" r="7.0"/>
<circle cx="1192.7" cy="1297.8" r="7.0"/>
<circle cx="1250.4" cy="1285.6" r="7.0"/>
<circle cx="1237.8" cy="1306.4" r="7.0"/>
<circle cx="1195.8" cy="1321.2" r="7.0"/>
<circle cx="1199.3" cy="1325.5" r="7.0"/>
<circle cx="1264.6" cy="1328.5" r="7.0"/>
<circle cx="1034.7" cy="1328.1" r="7.0"/>
<circle cx="1047.1" cy="1333.0" r="7.0"/>
<circle cx="1074.5" cy="1343.4" r="7.0"/>
<circle cx="1086.7" cy="1348.9" r="7.0"/>
<circle cx="1097.1" cy="1352.4" r="7.0"/>
<circle cx="1104.9" cy="1340.2" r="7.0"/>
<circle cx="1115.3" cy="1347.2" r="7.0"/>
<circle cx="1119.6" cy="1326.4" r="7.0"/>
<circle cx="1124.8" cy="1332.4" r="7.0"/>
<circle cx="1153.4" cy="1348.0" r="7.0"/>
<circle cx="1156.0" cy="1368.0" r="7.0"/>
<circle cx="1143.8" cy="1368.0" r="7.0"/>
<circle cx="1128.2" cy="1359.3" r="7.0"/>
<circle cx="1168.1" cy="1360.2" r="7.0"/>
<circle cx="1183.7" cy="1359.3" r="7.0"/>
<circle cx="1206.2" cy="1359.3" r="7.0"/>
<circle cx="1216.6" cy="1361.0" r="7.0"/>
<circle cx="1208.0" cy="1341.1" r="7.0"/>
<circle cx="1062.4" cy="1358.4" r="7.0"/>
<circle cx="1074.5" cy="1359.3" r="7.0"/>
<circle cx="1078.9" cy="1374.4" r="7.0"/>
<circle cx="1244.9" cy="1373.5" r="7.0"/>
<circle cx="1203.1" cy="1382.7" r="7.0"/>
<circle cx="1144.9" cy="1397.8" r="7.0"/>
<circle cx="1026.0" cy="1426.9" r="7.0"/>
<circle cx="1502.6" cy="893.9" r="7.0"/>
<circle cx="1614.1" cy="921.7" r="7.0"/>
<circle cx="1417.8" cy="972.3" r="7.0"/>
<circle cx="1438.8" cy="966.7" r="7.0"/>
<circle cx="1459.8" cy="1007.9" r="7.0"/>
<circle cx="1459.8" cy="1028.5" r="7.0"/>
<circle cx="1341.1" cy="1016.9" r="7.0"/>
<circle cx="1605.5" cy="1034.9" r="7.0"/>
<circle cx="1431.1" cy="1085.9" r="7.0"/>
<circle cx="1449.9" cy="1105.6" r="7.0"/>
<circle cx="1329.1" cy="1118.0" r="7.0"/>
<circle cx="1359.1" cy="1139.5" r="7.0"/>
<circle cx="1377.1" cy="1142.1" r="7.0"/>
<circle cx="1092.4" cy="1053.8" r="7.0"/>
<circle cx="1090.3" cy="1109.0" r="7.0"/>
<circle cx="1335.9" cy="1210.2" r="7.0"/>
<circle cx="1394.2" cy="1210.2" r="7.0"/>
<circle cx="1353.5" cy="1231.6" r="7.0"/>
<circle cx="1533.9" cy="1244.5" r="7.0"/>
<circle cx="1440.9" cy="1271.5" r="7.0"/>
<circle cx="1365.5" cy="1358.5" r="7.0"/>
<circle cx="1332.1" cy="1358.5" r="7.0"/>
<circle cx="1406.2" cy="1355.1" r="7.0"/>
<circle cx="1348.3" cy="1387.2" r="7.0"/>
<circle cx="991.7" cy="1448.1" r="7.0"/>
<circle cx="1131.9" cy="1445.5" r="7.0"/>
<circle cx="1056.2" cy="1359.3" r="7.0"/>
<circle cx="1068.5" cy="1359.3" r="7.0"/>
<circle cx="1080.9" cy="1359.3" r="7.0"/>
<circle cx="1093.2" cy="1359.3" r="7.0"/>
<circle cx="1108.0" cy="1359.3" r="7.0"/>
<circle cx="1124.1" cy="1359.3" r="7.0"/>
<circle cx="1142.6" cy="1359.3" r="7.0"/>
<circle cx="1167.3" cy="1359.3" r="7.0"/>
<circle cx="1185.9" cy="1359.3" r="7.0"/>
<circle cx="1248.8" cy="1359.3" r="7.0"/>
<circle cx="1272.3" cy="1359.3" r="7.0"/>
<circle cx="1402.0" cy="1359.3" r="7.0"/>
<circle cx="1513.2" cy="1359.3" r="7.0"/>
</g>
<g fill="#8b0000" fill-opacity="0.5" stroke="#8b0000" stroke-opacity="0.5" stroke-width="1">
<circle cx="1079.4" cy="1205.9" r="3.3"/>
<circle cx="1148.2" cy="1211.5" r="3.3"/>
<circle cx="1152.2" cy="1217.5" r="3.3"/>
<circle cx="1164.3" cy="1227.1" r="3.3"/>
<circle cx="1194.1" cy="1208.2" r="3.3"/>
<circle cx="1260.8" cy="1184.8" r="3.3"/>
<circle cx="1292.0" cy="1191.7" r="3.3"/>
<circle cx="1283.4" cy="1240.9" r="3.3"/>
<circle cx="1084.4" cy="1251.7" r="3.3"/>
<circle cx="1093.1" cy="1249.4" r="3.3"/>
<circle cx="1138.6" cy="1259.0" r="3.3"/>
<circle cx="1197.9" cy="1273.0" r="3.3"/>
<circle cx="1251.0" cy="1271.8" r="3.3"/>
<circle cx="1127.4" cy="1279.8" r="3.3"/>
<circle cx="1179.4" cy="1279.9" r="3.3"/>
<circle cx="1147.0" cy="1288.6" r="3.3"/>
<circle cx="1241.2" cy="1289.5" r="3.3"/>
<circle cx="1251.0" cy="1292.1" r="3.3"/>
<circle cx="1072.8" cy="1296.6" r="3.3"/>
<circle cx="1092.7" cy="1295.2" r="3.3"/>
<circle cx="1229.1" cy="1300.0" r="3.3"/>
<circle cx="1237.8" cy="1301.6" r="3.3"/>
<circle cx="1150.8" cy="1304.7" r="3.3"/>
<circle cx="1122.5" cy="1313.0" r="3.3"/>
<circle cx="1142.1" cy="1313.0" r="3.3"/>
<circle cx="1232.6" cy="1313.0" r="3.3"/>
<circle cx="1284.2" cy="1314.2" r="3.3"/>
<circle cx="1189.3" cy="1318.6" r="3.3"/>
<circle cx="1190.6" cy="1322.9" r="3.3"/>
<circle cx="1222.7" cy="1320.3" r="3.3"/>
<circle cx="1233.6" cy="1321.2" r="3.3"/>
<circle cx="1242.6" cy="1317.7" r="3.3"/>
<circle cx="1172.8" cy="1326.4" r="3.3"/>
<circle cx="1092.7" cy="1322.9" r="3.3"/>
<circle cx="1092.7" cy="1328.1" r="3.3"/>
<circle cx="1129.6" cy="1334.2" r="3.3"/>
<circle cx="1143.2" cy="1335.4" r="3.3"/>
<circle cx="1236.6" cy="1334.2" r="3.3"/>
<circle cx="1133.8" cy="1346.0" r="3.3"/>
<circle cx="1226.2" cy="1346.0" r="3.3"/>
<circle cx="1100.2" cy="1348.0" r="3.3"/>
<circle cx="1159.8" cy="1349.4" r="3.3"/>
<circle cx="1251.0" cy="1350.6" r="3.3"/>
<circle cx="1239.2" cy="1352.7" r="3.3"/>
<circle cx="1240.9" cy="1362.8" r="3.3"/>
<circle cx="1058.4" cy="1363.6" r="3.3"/>
<circle cx="1081.8" cy="1368.0" r="3.3"/>
<circle cx="1092.7" cy="1370.6" r="3.3"/>
<circle cx="1174.2" cy="1375.4" r="3.3"/>
<circle cx="1052.0" cy="1381.3" r="3.3"/>
<circle cx="1057.2" cy="1390.5" r="3.3"/>
<circle cx="1069.3" cy="1394.3" r="3.3"/>
<circle cx="1092.7" cy="1383.6" r="3.3"/>
<circle cx="1189.3" cy="1400.0" r="3.3"/>
<circle cx="1296.7" cy="1387.0" r="3.3"/>
<circle cx="1232.6" cy="1435.2" r="3.3"/>
<circle cx="1090.1" cy="1436.4" r="3.3"/>
<circle cx="1473.5" cy="1000.6" r="3.3"/>
<circle cx="1326.1" cy="1032.8" r="3.3"/>
<circle cx="1256.2" cy="1066.6" r="3.3"/>
<circle cx="1317.5" cy="1092.3" r="3.3"/>
<circle cx="1508.2" cy="1100.9" r="3.3"/>
<circle cx="1432.4" cy="1102.2" r="3.3"/>
<circle cx="1377.1" cy="1107.8" r="3.3"/>
<circle cx="1359.5" cy="1109.5" r="3.3"/>
<circle cx="1480.8" cy="1123.2" r="3.3"/>
<circle cx="1270.8" cy="1115.9" r="3.3"/>
<circle cx="1268.2" cy="1129.2" r="3.3"/>
<circle cx="1194.0" cy="1150.2" r="3.3"/>
<circle cx="1149.5" cy="1131.3" r="3.3"/>
<circle cx="1091.6" cy="1093.6" r="3.3"/>
<circle cx="1092.9" cy="1151.1" r="3.3"/>
<circle cx="1362.1" cy="1167.8" r="3.3"/>
<circle cx="1323.9" cy="1219.6" r="3.3"/>
<circle cx="1392.1" cy="1219.6" r="3.3"/>
<circle cx="1416.5" cy="1224.4" r="3.3"/>
<circle cx="1314.0" cy="1242.8" r="3.3"/>
<circle cx="1321.3" cy="1272.4" r="3.3"/>
<circle cx="1330.3" cy="1280.9" r="3.3"/>
<circle cx="1406.6" cy="1292.5" r="3.3"/>
<circle cx="1431.5" cy="1295.1" r="3.3"/>
<circle cx="1641.5" cy="1286.9" r="3.3"/>
<circle cx="1375.8" cy="1312.6" r="3.3"/>
<circle cx="1497.1" cy="1313.9" r="3.3"/>
<circle cx="1537.8" cy="1312.6" r="3.3"/>
<circle cx="1562.7" cy="1317.4" r="3.3"/>
<circle cx="1407.5" cy="1320.8" r="3.3"/>
<circle cx="1395.5" cy="1336.2" r="3.3"/>
<circle cx="1388.2" cy="1351.7" r="3.3"/>
<circle cx="1364.6" cy="1386.8" r="3.3"/>
</g>
<g fill="#8b0000" fill-opacity="0.5" stroke="#8b0000" stroke-opacity="0.5" stroke-width="1">
<circle cx="975.9" cy="1359.3" r="3.63"/>
<circle cx="1062.3" cy="1359.3" r="3.63"/>
<circle cx="1063.8" cy="1359.3" r="3.63"/>
<circle cx="1065.3" cy="1359.3" r="3.63"/>
<circle cx="1066.8" cy="1359.3" r="3.63"/>
<circle cx="1068.3" cy="1359.3" r="3.63"/>
<circle cx="1069.7" cy="1359.3" r="3.63"/>
<circle cx="1071.2" cy="1359.3" r="3.63"/>
<circle cx="1072.7" cy="1359.3" r="3.63"/>
<circle cx="1074.2" cy="1359.3" r="3.63"/>
<circle cx="1075.7" cy="1359.3" r="3.63"/>
<circle cx="1077.2" cy="1359.3" r="3.63"/>
<circle cx="1078.6" cy="1359.3" r="3.63"/>
<circle cx="1080.1" cy="1359.3" r="3.63"/>
<circle cx="1081.6" cy="1359.3" r="3.63"/>
<circle cx="1083.1" cy="1359.3" r="3.63"/>
<circle cx="1084.6" cy="1359.3" r="3.63"/>
<circle cx="1086.1" cy="1359.3" r="3.63"/>
<circle cx="1087.5" cy="1359.3" r="3.63"/>
<circle cx="1089.0" cy="1359.3" r="3.63"/>
<circle cx="1090.5" cy="1359.3" r="3.63"/>
<circle cx="1092.0" cy="1359.3" r="3.63"/>
<circle cx="1093.5" cy="1359.3" r="3.63"/>
<circle cx="1094.9" cy="1359.3" r="3.63"/>
<circle cx="1096.4" cy="1359.3" r="3.63"/>
<circle cx="1097.9" cy="1359.3" r="3.63"/>
<circle cx="1099.4" cy="1359.3" r="3.63"/>
<circle cx="1100.9" cy="1359.3" r="3.63"/>
<circle cx="1102.4" cy="1359.3" r="3.63"/>
<circle cx="1103.8" cy="1359.3" r="3.63"/>
<circle cx="1105.3" cy="1359.3" r="3.63"/>
<circle cx="1105.6" cy="1359.3" r="3.63"/>
<circle cx="1108.7" cy="1359.3" r="3.63"/>
<circle cx="1111.7" cy="1359.3" r="3.63"/>
<circle cx="1114.8" cy="1359.3" r="3.63"/>
<circle cx="1117.9" cy="1359.3" r="3.63"/>
<circle cx="1121.0" cy="1359.3" r="3.63"/>
<circle cx="1124.1" cy="1359.3" r="3.63"/>
<circle cx="1127.2" cy="1359.3" r="3.63"/>
<circle cx="1130.3" cy="1359.3" r="3.63"/>
<circle cx="1133.4" cy="1359.3" r="3.63"/>
<circle cx="1136.4" cy="1359.3" r="3.63"/>
<circle cx="1139.5" cy="1359.3" r="3.63"/>
<circle cx="1142.6" cy="1359.3" r="3.63"/>
<circle cx="1145.7" cy="1359.3" r="3.63"/>
<circle cx="1148.8" cy="1359.3" r="3.63"/>
<circle cx="1151.9" cy="1359.3" r="3.63"/>
<circle cx="1155.0" cy="1359.3" r="3.63"/>
<circle cx="1171.0" cy="1359.3" r="3.63"/>
<circle cx="1172.5" cy="1359.3" r="3.63"/>
<circle cx="1174.0" cy="1359.3" r="3.63"/>
<circle cx="1175.5" cy="1359.3" r="3.63"/>
<circle cx="1177.0" cy="1359.3" r="3.63"/>
<circle cx="1178.4" cy="1359.3" r="3.63"/>
<circle cx="1179.9" cy="1359.3" r="3.63"/>
<circle cx="1181.4" cy="1359.3" r="3.63"/>
<circle cx="1182.9" cy="1359.3" r="3.63"/>
<circle cx="1184.4" cy="1359.3" r="3.63"/>
<circle cx="1185.9" cy="1359.3" r="3.63"/>
<circle cx="1187.3" cy="1359.3" r="3.63"/>
<circle cx="1188.8" cy="1359.3" r="3.63"/>
<circle cx="1190.3" cy="1359.3" r="3.63"/>
<circle cx="1191.8" cy="1359.3" r="3.63"/>
<circle cx="1193.3" cy="1359.3" r="3.63"/>
<circle cx="1194.7" cy="1359.3" r="3.63"/>
<circle cx="1200.7" cy="1359.3" r="3.63"/>
<circle cx="1208.1" cy="1359.3" r="3.63"/>
<circle cx="1216.7" cy="1359.3" r="3.63"/>
<circle cx="1224.1" cy="1359.3" r="3.63"/>
<circle cx="1230.3" cy="1359.3" r="3.63"/>
<circle cx="1237.7" cy="1359.3" r="3.63"/>
<circle cx="1239.0" cy="1359.3" r="3.63"/>
<circle cx="1240.2" cy="1359.3" r="3.63"/>
<circle cx="1241.4" cy="1359.3" r="3.63"/>
<circle cx="1242.7" cy="1359.3" r="3.63"/>
<circle cx="1243.9" cy="1359.3" r="3.63"/>
<circle cx="1250.1" cy="1359.3" r="3.63"/>
<circle cx="1251.3" cy="1359.3" r="3.63"/>
<circle cx="1260.0" cy="1359.3" r="3.63"/>
<circle cx="1261.2" cy="1359.3" r="3.63"/>
<circle cx="1267.4" cy="1359.3" r="3.63"/>
<circle cx="1269.8" cy="1359.3" r="3.63"/>
<circle cx="1276.0" cy="1359.3" r="3.63"/>
<circle cx="1279.7" cy="1359.3" r="3.63"/>
<circle cx="1287.1" cy="1359.3" r="3.63"/>
<circle cx="1294.5" cy="1359.3" r="3.63"/>
<circle cx="1297.0" cy="1359.3" r="3.63"/>
<circle cx="1299.5" cy="1359.3" r="3.63"/>
<circle cx="1305.7" cy="1359.3" r="3.63"/>
<circle cx="1311.8" cy="1359.3" r="3.63"/>
<circle cx="1323.0" cy="1359.3" r="3.63"/>
<circle cx="1326.7" cy="1359.3" r="3.63"/>
<circle cx="1341.5" cy="1359.3" r="3.63"/>
<circle cx="1356.3" cy="1359.3" r="3.63"/>
<circle cx="1358.8" cy="1359.3" r="3.63"/>
<circle cx="1378.5" cy="1359.3" r="3.63"/>
<circle cx="1388.4" cy="1359.3" r="3.63"/>
<circle cx="1405.7" cy="1359.3" r="3.63"/>
<circle cx="1411.9" cy="1359.3" r="3.63"/>
<circle cx="1416.8" cy="1359.3" r="3.63"/>
<circle cx="1425.5" cy="1359.3" r="3.63"/>
<circle cx="1434.1" cy="1359.3" r="3.63"/>
<circle cx="1445.2" cy="1359.3" r="3.63"/>
<circle cx="1457.6" cy="1359.3" r="3.63"/>
<circle cx="1460.1" cy="1359.3" r="3.63"/>
<circle cx="1466.2" cy="1359.3" r="3.63"/>
<circle cx="1473.6" cy="1359.3" r="3.63"/>
<circle cx="1507.0" cy="1359.3" r="3.63"/>
<circle cx="1524.3" cy="1359.3" r="3.63"/>
<circle cx="1551.5" cy="1359.3" r="3.63"/>
<circle cx="1560.1" cy="1359.3" r="3.63"/>
<circle cx="1572.5" cy="1359.3" r="3.63"/>
<circle cx="1582.3" cy="1359.3" r="3.63"/>
</g>
</g>
<line x1="1278.5" y1="770.6" x2="1278.5" y2="1477.0" stroke="#000" stroke-width="1.2" stroke-dasharray="4.4 2.2"/>
<line x1="969.7" y1="1182.5" x2="1710.8" y2="1182.5" stroke="#000" stroke-width="1.2" stroke-dasharray="4.4 2.2"/>
<rect x="969.7" y="770.6" width="741.1" height="706.4" fill="none" stroke="#000" stroke-width="1.1"/>
<line x1="969.7" y1="1477.0" x2="969.7" y2="1481.8" stroke="#000" stroke-width="1.1"/>
<line x1="964.9000000000001" y1="1477.0" x2="969.7" y2="1477.0" stroke="#000" stroke-width="1.1"/>
<text x="969.7" y="1508.2" text-anchor="middle" font-size="28.5" fill="#000" font-family="'DejaVu Sans', sans-serif">−1</text>
<text x="959.7" y="1488.2" text-anchor="end" font-size="28.5" fill="#000" font-family="'DejaVu Sans', sans-serif">−1</text>
<line x1="1093.2" y1="1477.0" x2="1093.2" y2="1481.8" stroke="#000" stroke-width="1.1"/>
<line x1="964.9000000000001" y1="1359.3" x2="969.7" y2="1359.3" stroke="#000" stroke-width="1.1"/>
<text x="1093.2" y="1508.2" text-anchor="middle" font-size="28.5" fill="#000" font-family="'DejaVu Sans', sans-serif">0</text>
<text x="959.7" y="1370.5" text-anchor="end" font-size="28.5" fill="#000" font-family="'DejaVu Sans', sans-serif">0</text>
<line x1="1216.7" y1="1477.0" x2="1216.7" y2="1481.8" stroke="#000" stroke-width="1.1"/>
<line x1="964.9000000000001" y1="1241.5" x2="969.7" y2="1241.5" stroke="#000" stroke-width="1.1"/>
<text x="1216.7" y="1508.2" text-anchor="middle" font-size="28.5" fill="#000" font-family="'DejaVu Sans', sans-serif">1</text>
<text x="959.7" y="1252.7" text-anchor="end" font-size="28.5" fill="#000" font-family="'DejaVu Sans', sans-serif">1</text>
<line x1="1340.2" y1="1477.0" x2="1340.2" y2="1481.8" stroke="#000" stroke-width="1.1"/>
<line x1="964.9000000000001" y1="1123.8" x2="969.7" y2="1123.8" stroke="#000" stroke-width="1.1"/>
<text x="1340.2" y="1508.2" text-anchor="middle" font-size="28.5" fill="#000" font-family="'DejaVu Sans', sans-serif">2</text>
<text x="959.7" y="1135.0" text-anchor="end" font-size="28.5" fill="#000" font-family="'DejaVu Sans', sans-serif">2</text>
<line x1="1463.8" y1="1477.0" x2="1463.8" y2="1481.8" stroke="#000" stroke-width="1.1"/>
<line x1="964.9000000000001" y1="1006.1" x2="969.7" y2="1006.1" stroke="#000" stroke-width="1.1"/>
<text x="1463.8" y="1508.2" text-anchor="middle" font-size="28.5" fill="#000" font-family="'DejaVu Sans', sans-serif">3</text>
<text x="959.7" y="1017.3" text-anchor="end" font-size="28.5" fill="#000" font-family="'DejaVu Sans', sans-serif">3</text>
<line x1="1587.3" y1="1477.0" x2="1587.3" y2="1481.8" stroke="#000" stroke-width="1.1"/>
<line x1="964.9000000000001" y1="888.3" x2="969.7" y2="888.3" stroke="#000" stroke-width="1.1"/>
<text x="1587.3" y="1508.2" text-anchor="middle" font-size="28.5" fill="#000" font-family="'DejaVu Sans', sans-serif">4</text>
<text x="959.7" y="899.5" text-anchor="end" font-size="28.5" fill="#000" font-family="'DejaVu Sans', sans-serif">4</text>
<line x1="1710.8" y1="1477.0" x2="1710.8" y2="1481.8" stroke="#000" stroke-width="1.1"/>
<line x1="964.9000000000001" y1="770.6" x2="969.7" y2="770.6" stroke="#000" stroke-width="1.1"/>
<text x="1710.8" y="1508.2" text-anchor="middle" font-size="28.5" fill="#000" font-family="'DejaVu Sans', sans-serif">5</text>
<text x="959.7" y="781.8" text-anchor="end" font-size="28.5" fill="#000" font-family="'DejaVu Sans', sans-serif">5</text>
<text x="1340.2" y="762.4" text-anchor="middle" font-size="35.7" fill="#000" font-family="'DejaVu Sans', sans-serif">LNR, peptide</text>
<clipPath id="cpS1"><rect x="149.0" y="1566.5" width="338.0" height="353.0"/></clipPath>
<g clip-path="url(#cpS1)">
<g fill="#90ee90" fill-opacity="0.5" stroke="#90ee90" stroke-opacity="0.5" stroke-width="1">
<circle cx="452.6" cy="1635.5" r="9.8"/>
<circle cx="362.5" cy="1650.2" r="9.8"/>
<circle cx="404.2" cy="1654.7" r="9.8"/>
<circle cx="321.3" cy="1697.2" r="9.8"/>
<circle cx="327.8" cy="1710.9" r="9.8"/>
<circle cx="371.3" cy="1715.2" r="9.8"/>
<circle cx="275.3" cy="1719.2" r="9.8"/>
<circle cx="338.4" cy="1730.9" r="9.8"/>
<circle cx="281.2" cy="1736.4" r="9.8"/>
<circle cx="297.3" cy="1740.3" r="9.8"/>
<circle cx="308.6" cy="1745.2" r="9.8"/>
<circle cx="363.1" cy="1748.5" r="9.8"/>
<circle cx="280.2" cy="1750.1" r="9.8"/>
<circle cx="286.1" cy="1755.0" r="9.8"/>
<circle cx="299.8" cy="1763.8" r="9.8"/>
<circle cx="260.0" cy="1765.4" r="9.8"/>
<circle cx="279.2" cy="1767.7" r="9.8"/>
<circle cx="293.9" cy="1770.7" r="9.8"/>
<circle cx="362.5" cy="1770.7" r="9.8"/>
<circle cx="386.6" cy="1780.8" r="9.8"/>
<circle cx="225.0" cy="1785.7" r="9.8"/>
<circle cx="210.3" cy="1797.1" r="9.8"/>
<circle cx="356.2" cy="1787.9" r="9.8"/>
<circle cx="329.2" cy="1802.0" r="9.8"/>
<circle cx="332.1" cy="1800.0" r="9.8"/>
<circle cx="292.0" cy="1797.1" r="9.8"/>
<circle cx="262.6" cy="1793.2" r="9.8"/>
<circle cx="270.4" cy="1791.2" r="9.8"/>
<circle cx="276.3" cy="1788.3" r="9.8"/>
<circle cx="286.1" cy="1781.4" r="9.8"/>
<circle cx="282.2" cy="1806.9" r="9.8"/>
<circle cx="290.0" cy="1810.8" r="9.8"/>
<circle cx="303.7" cy="1806.9" r="9.8"/>
<circle cx="314.5" cy="1822.6" r="9.8"/>
<circle cx="300.8" cy="1827.5" r="9.8"/>
<circle cx="356.2" cy="1822.2" r="9.8"/>
<circle cx="270.4" cy="1828.4" r="9.8"/>
<circle cx="278.3" cy="1834.3" r="9.8"/>
<circle cx="288.1" cy="1836.3" r="9.8"/>
<circle cx="276.3" cy="1844.1" r="9.8"/>
<circle cx="259.7" cy="1851.0" r="9.8"/>
<circle cx="277.3" cy="1860.8" r="9.8"/>
<circle cx="299.8" cy="1860.8" r="9.8"/>
<circle cx="324.3" cy="1843.7" r="9.8"/>
<circle cx="324.3" cy="1853.9" r="9.8"/>
<circle cx="324.3" cy="1860.8" r="9.8"/>
<circle cx="374.2" cy="1865.1" r="9.8"/>
<circle cx="258.7" cy="1886.8" r="9.8"/>
<circle cx="226.8" cy="1901.9" r="9.8"/>
<circle cx="241.0" cy="1867.6" r="9.8"/>
<circle cx="231.3" cy="1801.0" r="9.8"/>
<circle cx="239.1" cy="1801.0" r="9.8"/>
<circle cx="250.8" cy="1803.0" r="9.8"/>
<circle cx="258.7" cy="1806.9" r="9.8"/>
<circle cx="264.6" cy="1809.8" r="9.8"/>
<circle cx="227.3" cy="1808.9" r="9.8"/>
<circle cx="198.9" cy="1815.7" r="9.8"/>
<circle cx="205.8" cy="1820.6" r="9.8"/>
<circle cx="217.5" cy="1824.5" r="9.8"/>
<circle cx="227.3" cy="1820.6" r="9.8"/>
<circle cx="239.1" cy="1826.5" r="9.8"/>
<circle cx="246.9" cy="1830.4" r="9.8"/>
<circle cx="258.7" cy="1822.6" r="9.8"/>
<circle cx="268.5" cy="1832.4" r="9.8"/>
<circle cx="198.0" cy="1848.0" r="9.8"/>
<circle cx="207.8" cy="1840.2" r="9.8"/>
<circle cx="217.5" cy="1840.2" r="9.8"/>
<circle cx="227.3" cy="1844.1" r="9.8"/>
<circle cx="233.2" cy="1853.9" r="9.8"/>
<circle cx="223.4" cy="1859.8" r="9.8"/>
<circle cx="213.6" cy="1859.8" r="9.8"/>
<circle cx="203.8" cy="1855.9" r="9.8"/>
<circle cx="188.2" cy="1865.6" r="9.8"/>
<circle cx="194.0" cy="1871.5" r="9.8"/>
<circle cx="207.8" cy="1869.6" r="9.8"/>
<circle cx="219.5" cy="1865.6" r="9.8"/>
<circle cx="231.3" cy="1865.6" r="9.8"/>
<circle cx="241.0" cy="1859.8" r="9.8"/>
<circle cx="246.9" cy="1840.2" r="9.8"/>
<circle cx="254.8" cy="1836.3" r="9.8"/>
<circle cx="213.6" cy="1850.0" r="9.8"/>
<circle cx="223.4" cy="1850.0" r="9.8"/>
<circle cx="231.3" cy="1832.4" r="9.8"/>
<circle cx="207.8" cy="1830.4" r="9.8"/>
<circle cx="241.0" cy="1812.8" r="9.8"/>
<circle cx="250.8" cy="1816.7" r="9.8"/>
</g>
<g fill="#9370db" fill-opacity="0.5" stroke="#9370db" stroke-opacity="0.5" stroke-width="1">
<circle cx="205.2" cy="1812.4" r="7.0"/>
<circle cx="240.1" cy="1816.7" r="7.0"/>
<circle cx="252.2" cy="1820.6" r="7.0"/>
<circle cx="255.7" cy="1832.0" r="7.0"/>
<circle cx="205.2" cy="1833.9" r="7.0"/>
<circle cx="224.4" cy="1832.7" r="7.0"/>
<circle cx="232.8" cy="1839.6" r="7.0"/>
<circle cx="205.2" cy="1859.8" r="7.0"/>
<circle cx="205.8" cy="1861.7" r="7.0"/>
<circle cx="196.0" cy="1866.6" r="7.0"/>
<circle cx="190.1" cy="1868.6" r="7.0"/>
<circle cx="212.7" cy="1865.3" r="7.0"/>
<circle cx="240.1" cy="1860.8" r="7.0"/>
</g>
<g fill="#8b0000" fill-opacity="0.5" stroke="#8b0000" stroke-opacity="0.5" stroke-width="1">
</g>
<g fill="#8b0000" fill-opacity="0.5" stroke="#8b0000" stroke-opacity="0.5" stroke-width="1">
</g>
</g>
<line x1="289.5" y1="1566.5" x2="289.5" y2="1919.5" stroke="#000" stroke-width="1.2" stroke-dasharray="4.4 2.2"/>
<line x1="149.0" y1="1772.5" x2="487.0" y2="1772.5" stroke="#000" stroke-width="1.2" stroke-dasharray="4.4 2.2"/>
<rect x="149.0" y="1566.5" width="338.0" height="353.0" fill="none" stroke="#000" stroke-width="1.1"/>
<line x1="149.0" y1="1919.5" x2="149.0" y2="1924.3" stroke="#000" stroke-width="1.1"/>
<line x1="144.2" y1="1919.5" x2="149.0" y2="1919.5" stroke="#000" stroke-width="1.1"/>
<text x="149.0" y="1945.9" text-anchor="middle" font-size="21" fill="#000" font-family="'DejaVu Sans', sans-serif">−1</text>
<text x="138.7" y="1927.2" text-anchor="end" font-size="21" fill="#000" font-family="'DejaVu Sans', sans-serif">−1</text>
<line x1="205.3" y1="1919.5" x2="205.3" y2="1924.3" stroke="#000" stroke-width="1.1"/>
<line x1="144.2" y1="1860.7" x2="149.0" y2="1860.7" stroke="#000" stroke-width="1.1"/>
<text x="205.3" y="1945.9" text-anchor="middle" font-size="21" fill="#000" font-family="'DejaVu Sans', sans-serif">0</text>
<text x="138.7" y="1868.3" text-anchor="end" font-size="21" fill="#000" font-family="'DejaVu Sans', sans-serif">0</text>
<line x1="261.7" y1="1919.5" x2="261.7" y2="1924.3" stroke="#000" stroke-width="1.1"/>
<line x1="144.2" y1="1801.8" x2="149.0" y2="1801.8" stroke="#000" stroke-width="1.1"/>
<text x="261.7" y="1945.9" text-anchor="middle" font-size="21" fill="#000" font-family="'DejaVu Sans', sans-serif">1</text>
<text x="138.7" y="1809.5" text-anchor="end" font-size="21" fill="#000" font-family="'DejaVu Sans', sans-serif">1</text>
<line x1="318.0" y1="1919.5" x2="318.0" y2="1924.3" stroke="#000" stroke-width="1.1"/>
<line x1="144.2" y1="1743.0" x2="149.0" y2="1743.0" stroke="#000" stroke-width="1.1"/>
<text x="318.0" y="1945.9" text-anchor="middle" font-size="21" fill="#000" font-family="'DejaVu Sans', sans-serif">2</text>
<text x="138.7" y="1750.7" text-anchor="end" font-size="21" fill="#000" font-family="'DejaVu Sans', sans-serif">2</text>
<line x1="374.3" y1="1919.5" x2="374.3" y2="1924.3" stroke="#000" stroke-width="1.1"/>
<line x1="144.2" y1="1684.2" x2="149.0" y2="1684.2" stroke="#000" stroke-width="1.1"/>
<text x="374.3" y="1945.9" text-anchor="middle" font-size="21" fill="#000" font-family="'DejaVu Sans', sans-serif">3</text>
<text x="138.7" y="1691.8" text-anchor="end" font-size="21" fill="#000" font-family="'DejaVu Sans', sans-serif">3</text>
<line x1="430.7" y1="1919.5" x2="430.7" y2="1924.3" stroke="#000" stroke-width="1.1"/>
<line x1="144.2" y1="1625.3" x2="149.0" y2="1625.3" stroke="#000" stroke-width="1.1"/>
<text x="430.7" y="1945.9" text-anchor="middle" font-size="21" fill="#000" font-family="'DejaVu Sans', sans-serif">4</text>
<text x="138.7" y="1633.0" text-anchor="end" font-size="21" fill="#000" font-family="'DejaVu Sans', sans-serif">4</text>
<line x1="487.0" y1="1919.5" x2="487.0" y2="1924.3" stroke="#000" stroke-width="1.1"/>
<line x1="144.2" y1="1566.5" x2="149.0" y2="1566.5" stroke="#000" stroke-width="1.1"/>
<text x="487.0" y="1945.9" text-anchor="middle" font-size="21" fill="#000" font-family="'DejaVu Sans', sans-serif">5</text>
<text x="138.7" y="1574.2" text-anchor="end" font-size="21" fill="#000" font-family="'DejaVu Sans', sans-serif">5</text>
<text x="318.0" y="1558.3" text-anchor="middle" font-size="35.7" fill="#000" font-family="'DejaVu Sans', sans-serif">Motif, receptor</text>
<clipPath id="cpS2"><rect x="552.0" y="1566.5" width="338.0" height="353.0"/></clipPath>
<g clip-path="url(#cpS2)">
<g fill="#90ee90" fill-opacity="0.5" stroke="#90ee90" stroke-opacity="0.5" stroke-width="1">
<circle cx="775.9" cy="1607.5" r="9.8"/>
<circle cx="753.7" cy="1702.5" r="9.8"/>
<circle cx="788.4" cy="1715.2" r="9.8"/>
<circle cx="677.3" cy="1720.7" r="9.8"/>
<circle cx="746.5" cy="1755.4" r="9.8"/>
<circle cx="699.9" cy="1769.7" r="9.8"/>
<circle cx="687.1" cy="1780.5" r="9.8"/>
<circle cx="692.0" cy="1775.6" r="9.8"/>
<circle cx="663.6" cy="1788.3" r="9.8"/>
<circle cx="720.4" cy="1786.3" r="9.8"/>
<circle cx="702.8" cy="1803.0" r="9.8"/>
<circle cx="689.1" cy="1804.9" r="9.8"/>
<circle cx="665.6" cy="1799.1" r="9.8"/>
<circle cx="698.9" cy="1819.6" r="9.8"/>
<circle cx="710.6" cy="1836.3" r="9.8"/>
<circle cx="721.4" cy="1838.2" r="9.8"/>
<circle cx="676.4" cy="1836.3" r="9.8"/>
<circle cx="710.6" cy="1854.9" r="9.8"/>
<circle cx="702.8" cy="1859.8" r="9.8"/>
<circle cx="661.7" cy="1859.8" r="9.8"/>
<circle cx="653.8" cy="1859.8" r="9.8"/>
<circle cx="642.1" cy="1861.7" r="9.8"/>
<circle cx="630.3" cy="1867.6" r="9.8"/>
<circle cx="616.6" cy="1818.6" r="9.8"/>
<circle cx="608.8" cy="1830.4" r="9.8"/>
<circle cx="618.6" cy="1836.3" r="9.8"/>
<circle cx="646.0" cy="1824.5" r="9.8"/>
<circle cx="649.9" cy="1834.3" r="9.8"/>
<circle cx="601.0" cy="1846.1" r="9.8"/>
<circle cx="591.2" cy="1859.8" r="9.8"/>
<circle cx="589.2" cy="1869.6" r="9.8"/>
<circle cx="610.8" cy="1867.6" r="9.8"/>
<circle cx="661.7" cy="1897.0" r="9.8"/>
<circle cx="634.3" cy="1820.6" r="9.8"/>
</g>
<g fill="#9370db" fill-opacity="0.5" stroke="#9370db" stroke-opacity="0.5" stroke-width="1">
<circle cx="692.6" cy="1758.5" r="7.0"/>
<circle cx="708.1" cy="1770.7" r="7.0"/>
<circle cx="608.2" cy="1791.8" r="7.0"/>
<circle cx="608.2" cy="1804.5" r="7.0"/>
<circle cx="679.9" cy="1788.3" r="7.0"/>
<circle cx="678.3" cy="1799.1" r="7.0"/>
<circle cx="696.3" cy="1812.2" r="7.0"/>
<circle cx="657.2" cy="1812.2" r="7.0"/>
<circle cx="661.7" cy="1818.3" r="7.0"/>
<circle cx="749.8" cy="1801.0" r="7.0"/>
<circle cx="732.2" cy="1829.4" r="7.0"/>
<circle cx="740.0" cy="1830.8" r="7.0"/>
<circle cx="608.2" cy="1823.9" r="7.0"/>
<circle cx="634.3" cy="1820.6" r="7.0"/>
<circle cx="638.2" cy="1818.6" r="7.0"/>
<circle cx="626.4" cy="1830.4" r="7.0"/>
<circle cx="636.2" cy="1829.4" r="7.0"/>
<circle cx="608.8" cy="1838.2" r="7.0"/>
<circle cx="618.6" cy="1840.2" r="7.0"/>
<circle cx="630.3" cy="1840.2" r="7.0"/>
<circle cx="634.3" cy="1836.3" r="7.0"/>
<circle cx="654.8" cy="1844.1" r="7.0"/>
<circle cx="735.7" cy="1852.9" r="7.0"/>
<circle cx="754.3" cy="1860.4" r="7.0"/>
<circle cx="708.7" cy="1859.8" r="7.0"/>
<circle cx="687.1" cy="1859.8" r="7.0"/>
<circle cx="683.2" cy="1867.6" r="7.0"/>
<circle cx="677.3" cy="1859.8" r="7.0"/>
<circle cx="599.0" cy="1859.8" r="7.0"/>
<circle cx="601.0" cy="1871.5" r="7.0"/>
<circle cx="599.0" cy="1879.4" r="7.0"/>
<circle cx="608.2" cy="1885.2" r="7.0"/>
<circle cx="626.4" cy="1859.8" r="7.0"/>
<circle cx="634.3" cy="1859.8" r="7.0"/>
</g>
<g fill="#8b0000" fill-opacity="0.5" stroke="#8b0000" stroke-opacity="0.5" stroke-width="1">
<circle cx="713.6" cy="1791.2" r="3.3"/>
<circle cx="773.5" cy="1803.4" r="3.3"/>
<circle cx="652.9" cy="1796.1" r="3.3"/>
<circle cx="651.9" cy="1805.9" r="3.3"/>
<circle cx="668.1" cy="1812.8" r="3.3"/>
<circle cx="680.9" cy="1796.5" r="3.3"/>
<circle cx="682.8" cy="1803.6" r="3.3"/>
<circle cx="740.6" cy="1815.3" r="3.3"/>
<circle cx="743.9" cy="1818.6" r="3.3"/>
<circle cx="676.0" cy="1821.2" r="3.3"/>
<circle cx="679.3" cy="1823.0" r="3.3"/>
<circle cx="629.9" cy="1821.2" r="3.3"/>
<circle cx="644.6" cy="1822.2" r="3.3"/>
<circle cx="648.4" cy="1824.9" r="3.3"/>
<circle cx="665.0" cy="1833.7" r="3.3"/>
<circle cx="636.6" cy="1833.9" r="3.3"/>
<circle cx="614.1" cy="1837.2" r="3.3"/>
<circle cx="620.2" cy="1837.8" r="3.3"/>
<circle cx="613.3" cy="1844.1" r="3.3"/>
<circle cx="617.2" cy="1850.0" r="3.3"/>
<circle cx="620.9" cy="1854.9" r="3.3"/>
<circle cx="628.4" cy="1846.5" r="3.3"/>
<circle cx="631.3" cy="1851.9" r="3.3"/>
<circle cx="646.8" cy="1844.1" r="3.3"/>
<circle cx="645.0" cy="1849.0" r="3.3"/>
<circle cx="642.1" cy="1853.9" r="3.3"/>
<circle cx="651.9" cy="1850.0" r="3.3"/>
<circle cx="676.0" cy="1852.3" r="3.3"/>
<circle cx="696.3" cy="1860.4" r="3.3"/>
<circle cx="712.6" cy="1860.4" r="3.3"/>
<circle cx="691.4" cy="1869.0" r="3.3"/>
<circle cx="771.9" cy="1866.6" r="3.3"/>
<circle cx="858.1" cy="1870.5" r="3.3"/>
<circle cx="667.6" cy="1863.7" r="3.3"/>
</g>
<g fill="#8b0000" fill-opacity="0.5" stroke="#8b0000" stroke-opacity="0.5" stroke-width="1">
<circle cx="599.3" cy="1860.7" r="3.63"/>
<circle cx="601.0" cy="1860.7" r="3.63"/>
<circle cx="602.7" cy="1860.7" r="3.63"/>
<circle cx="604.4" cy="1860.7" r="3.63"/>
<circle cx="606.1" cy="1860.7" r="3.63"/>
<circle cx="607.8" cy="1860.7" r="3.63"/>
<circle cx="609.5" cy="1860.7" r="3.63"/>
<circle cx="611.1" cy="1860.7" r="3.63"/>
<circle cx="612.8" cy="1860.7" r="3.63"/>
<circle cx="615.1" cy="1860.7" r="3.63"/>
<circle cx="618.5" cy="1860.7" r="3.63"/>
<circle cx="621.9" cy="1860.7" r="3.63"/>
<circle cx="625.2" cy="1860.7" r="3.63"/>
<circle cx="628.6" cy="1860.7" r="3.63"/>
<circle cx="632.0" cy="1860.7" r="3.63"/>
<circle cx="635.4" cy="1860.7" r="3.63"/>
<circle cx="638.8" cy="1860.7" r="3.63"/>
<circle cx="642.1" cy="1860.7" r="3.63"/>
<circle cx="645.5" cy="1860.7" r="3.63"/>
<circle cx="650.6" cy="1860.7" r="3.63"/>
<circle cx="655.7" cy="1860.7" r="3.63"/>
<circle cx="660.7" cy="1860.7" r="3.63"/>
<circle cx="665.8" cy="1860.7" r="3.63"/>
<circle cx="670.9" cy="1860.7" r="3.63"/>
<circle cx="675.9" cy="1860.7" r="3.63"/>
<circle cx="681.0" cy="1860.7" r="3.63"/>
<circle cx="608.3" cy="1832.4" r="3.63"/>
<circle cx="608.3" cy="1835.4" r="3.63"/>
<circle cx="608.3" cy="1844.2" r="3.63"/>
<circle cx="608.3" cy="1848.9" r="3.63"/>
<circle cx="608.3" cy="1854.2" r="3.63"/>
<circle cx="608.3" cy="1857.7" r="3.63"/>
<circle cx="608.3" cy="1859.5" r="3.63"/>
</g>
</g>
<line x1="692.5" y1="1566.5" x2="692.5" y2="1919.5" stroke="#000" stroke-width="1.2" stroke-dasharray="4.4 2.2"/>
<line x1="552.0" y1="1772.5" x2="890.0" y2="1772.5" stroke="#000" stroke-width="1.2" stroke-dasharray="4.4 2.2"/>
<rect x="552.0" y="1566.5" width="338.0" height="353.0" fill="none" stroke="#000" stroke-width="1.1"/>
<line x1="552.0" y1="1919.5" x2="552.0" y2="1924.3" stroke="#000" stroke-width="1.1"/>
<line x1="547.2" y1="1919.5" x2="552.0" y2="1919.5" stroke="#000" stroke-width="1.1"/>
<text x="552.0" y="1945.9" text-anchor="middle" font-size="21" fill="#000" font-family="'DejaVu Sans', sans-serif">−1</text>
<text x="541.7" y="1927.2" text-anchor="end" font-size="21" fill="#000" font-family="'DejaVu Sans', sans-serif">−1</text>
<line x1="608.3" y1="1919.5" x2="608.3" y2="1924.3" stroke="#000" stroke-width="1.1"/>
<line x1="547.2" y1="1860.7" x2="552.0" y2="1860.7" stroke="#000" stroke-width="1.1"/>
<text x="608.3" y="1945.9" text-anchor="middle" font-size="21" fill="#000" font-family="'DejaVu Sans', sans-serif">0</text>
<text x="541.7" y="1868.3" text-anchor="end" font-size="21" fill="#000" font-family="'DejaVu Sans', sans-serif">0</text>
<line x1="664.7" y1="1919.5" x2="664.7" y2="1924.3" stroke="#000" stroke-width="1.1"/>
<line x1="547.2" y1="1801.8" x2="552.0" y2="1801.8" stroke="#000" stroke-width="1.1"/>
<text x="664.7" y="1945.9" text-anchor="middle" font-size="21" fill="#000" font-family="'DejaVu Sans', sans-serif">1</text>
<text x="541.7" y="1809.5" text-anchor="end" font-size="21" fill="#000" font-family="'DejaVu Sans', sans-serif">1</text>
<line x1="721.0" y1="1919.5" x2="721.0" y2="1924.3" stroke="#000" stroke-width="1.1"/>
<line x1="547.2" y1="1743.0" x2="552.0" y2="1743.0" stroke="#000" stroke-width="1.1"/>
<text x="721.0" y="1945.9" text-anchor="middle" font-size="21" fill="#000" font-family="'DejaVu Sans', sans-serif">2</text>
<text x="541.7" y="1750.7" text-anchor="end" font-size="21" fill="#000" font-family="'DejaVu Sans', sans-serif">2</text>
<line x1="777.3" y1="1919.5" x2="777.3" y2="1924.3" stroke="#000" stroke-width="1.1"/>
<line x1="547.2" y1="1684.2" x2="552.0" y2="1684.2" stroke="#000" stroke-width="1.1"/>
<text x="777.3" y="1945.9" text-anchor="middle" font-size="21" fill="#000" font-family="'DejaVu Sans', sans-serif">3</text>
<text x="541.7" y="1691.8" text-anchor="end" font-size="21" fill="#000" font-family="'DejaVu Sans', sans-serif">3</text>
<line x1="833.7" y1="1919.5" x2="833.7" y2="1924.3" stroke="#000" stroke-width="1.1"/>
<line x1="547.2" y1="1625.3" x2="552.0" y2="1625.3" stroke="#000" stroke-width="1.1"/>
<text x="833.7" y="1945.9" text-anchor="middle" font-size="21" fill="#000" font-family="'DejaVu Sans', sans-serif">4</text>
<text x="541.7" y="1633.0" text-anchor="end" font-size="21" fill="#000" font-family="'DejaVu Sans', sans-serif">4</text>
<line x1="890.0" y1="1919.5" x2="890.0" y2="1924.3" stroke="#000" stroke-width="1.1"/>
<line x1="547.2" y1="1566.5" x2="552.0" y2="1566.5" stroke="#000" stroke-width="1.1"/>
<text x="890.0" y="1945.9" text-anchor="middle" font-size="21" fill="#000" font-family="'DejaVu Sans', sans-serif">5</text>
<text x="541.7" y="1574.2" text-anchor="end" font-size="21" fill="#000" font-family="'DejaVu Sans', sans-serif">5</text>
<text x="721.0" y="1558.3" text-anchor="middle" font-size="35.7" fill="#000" font-family="'DejaVu Sans', sans-serif">Non-motif, receptor</text>
<clipPath id="cpS3"><rect x="969.7" y="1566.5" width="338.3" height="353.0"/></clipPath>
<g clip-path="url(#cpS3)">
<g fill="#90ee90" fill-opacity="0.5" stroke="#90ee90" stroke-opacity="0.5" stroke-width="1">
<circle cx="1220.3" cy="1590.9" r="9.8"/>
<circle cx="1256.9" cy="1618.9" r="9.8"/>
<circle cx="1234.8" cy="1638.1" r="9.8"/>
<circle cx="1194.8" cy="1645.7" r="9.8"/>
<circle cx="1223.0" cy="1660.4" r="9.8"/>
<circle cx="1217.1" cy="1679.6" r="9.8"/>
<circle cx="1217.7" cy="1680.6" r="9.8"/>
<circle cx="1249.1" cy="1678.6" r="9.8"/>
<circle cx="1179.1" cy="1694.7" r="9.8"/>
<circle cx="1170.3" cy="1702.5" r="9.8"/>
<circle cx="1146.2" cy="1713.5" r="9.8"/>
<circle cx="1157.0" cy="1718.4" r="9.8"/>
<circle cx="1168.8" cy="1716.4" r="9.8"/>
<circle cx="1195.6" cy="1715.2" r="9.8"/>
<circle cx="1183.5" cy="1734.0" r="9.8"/>
<circle cx="1184.4" cy="1743.2" r="9.8"/>
<circle cx="1223.0" cy="1736.8" r="9.8"/>
<circle cx="1115.9" cy="1754.4" r="9.8"/>
<circle cx="1145.9" cy="1767.3" r="9.8"/>
<circle cx="1110.6" cy="1786.3" r="9.8"/>
<circle cx="1130.6" cy="1783.4" r="9.8"/>
<circle cx="1133.5" cy="1784.4" r="9.8"/>
<circle cx="1031.3" cy="1796.7" r="9.8"/>
<circle cx="1069.9" cy="1796.1" r="9.8"/>
<circle cx="1084.6" cy="1796.1" r="9.8"/>
<circle cx="1086.5" cy="1797.1" r="9.8"/>
<circle cx="1076.7" cy="1806.5" r="9.8"/>
<circle cx="1025.8" cy="1826.5" r="9.8"/>
<circle cx="1061.0" cy="1826.5" r="9.8"/>
<circle cx="1066.9" cy="1824.5" r="9.8"/>
<circle cx="1075.7" cy="1826.5" r="9.8"/>
<circle cx="1097.3" cy="1833.3" r="9.8"/>
<circle cx="1095.9" cy="1839.2" r="9.8"/>
<circle cx="1045.4" cy="1840.2" r="9.8"/>
<circle cx="1053.2" cy="1836.3" r="9.8"/>
<circle cx="1063.0" cy="1840.2" r="9.8"/>
<circle cx="1065.0" cy="1851.9" r="9.8"/>
<circle cx="1084.6" cy="1859.8" r="9.8"/>
<circle cx="1089.4" cy="1860.8" r="9.8"/>
<circle cx="1130.6" cy="1846.7" r="9.8"/>
<circle cx="1208.9" cy="1847.0" r="9.8"/>
<circle cx="1008.2" cy="1859.8" r="9.8"/>
<circle cx="1018.0" cy="1859.8" r="9.8"/>
<circle cx="1027.8" cy="1863.7" r="9.8"/>
<circle cx="1037.5" cy="1869.6" r="9.8"/>
<circle cx="1047.3" cy="1861.7" r="9.8"/>
<circle cx="1014.0" cy="1853.9" r="9.8"/>
<circle cx="1033.6" cy="1848.0" r="9.8"/>
<circle cx="1039.5" cy="1844.1" r="9.8"/>
<circle cx="1004.3" cy="1857.8" r="9.8"/>
<circle cx="1012.1" cy="1859.8" r="9.8"/>
<circle cx="1019.9" cy="1857.8" r="9.8"/>
<circle cx="1023.8" cy="1861.7" r="9.8"/>
<circle cx="1031.7" cy="1859.8" r="9.8"/>
<circle cx="1018.0" cy="1865.6" r="9.8"/>
<circle cx="1027.8" cy="1867.6" r="9.8"/>
<circle cx="1008.2" cy="1863.7" r="9.8"/>
<circle cx="1043.4" cy="1855.9" r="9.8"/>
<circle cx="1035.6" cy="1853.9" r="9.8"/>
<circle cx="1051.3" cy="1853.9" r="9.8"/>
<circle cx="1047.3" cy="1836.3" r="9.8"/>
</g>
<g fill="#9370db" fill-opacity="0.5" stroke="#9370db" stroke-opacity="0.5" stroke-width="1">
<circle cx="1183.5" cy="1716.8" r="7.0"/>
<circle cx="1153.5" cy="1742.7" r="7.0"/>
<circle cx="1061.4" cy="1826.5" r="7.0"/>
<circle cx="1025.8" cy="1834.3" r="7.0"/>
<circle cx="1029.3" cy="1860.4" r="7.0"/>
<circle cx="1007.6" cy="1892.5" r="7.0"/>
</g>
<g fill="#8b0000" fill-opacity="0.5" stroke="#8b0000" stroke-opacity="0.5" stroke-width="1">
</g>
<g fill="#8b0000" fill-opacity="0.5" stroke="#8b0000" stroke-opacity="0.5" stroke-width="1">
</g>
</g>
<line x1="1110.5" y1="1566.5" x2="1110.5" y2="1919.5" stroke="#000" stroke-width="1.2" stroke-dasharray="4.4 2.2"/>
<line x1="969.7" y1="1772.5" x2="1308.0" y2="1772.5" stroke="#000" stroke-width="1.2" stroke-dasharray="4.4 2.2"/>
<rect x="969.7" y="1566.5" width="338.3" height="353.0" fill="none" stroke="#000" stroke-width="1.1"/>
<line x1="969.7" y1="1919.5" x2="969.7" y2="1924.3" stroke="#000" stroke-width="1.1"/>
<line x1="964.9000000000001" y1="1919.5" x2="969.7" y2="1919.5" stroke="#000" stroke-width="1.1"/>
<text x="969.7" y="1945.9" text-anchor="middle" font-size="21" fill="#000" font-family="'DejaVu Sans', sans-serif">−1</text>
<text x="959.4" y="1927.2" text-anchor="end" font-size="21" fill="#000" font-family="'DejaVu Sans', sans-serif">−1</text>
<line x1="1026.1" y1="1919.5" x2="1026.1" y2="1924.3" stroke="#000" stroke-width="1.1"/>
<line x1="964.9000000000001" y1="1860.7" x2="969.7" y2="1860.7" stroke="#000" stroke-width="1.1"/>
<text x="1026.1" y="1945.9" text-anchor="middle" font-size="21" fill="#000" font-family="'DejaVu Sans', sans-serif">0</text>
<text x="959.4" y="1868.3" text-anchor="end" font-size="21" fill="#000" font-family="'DejaVu Sans', sans-serif">0</text>
<line x1="1082.5" y1="1919.5" x2="1082.5" y2="1924.3" stroke="#000" stroke-width="1.1"/>
<line x1="964.9000000000001" y1="1801.8" x2="969.7" y2="1801.8" stroke="#000" stroke-width="1.1"/>
<text x="1082.5" y="1945.9" text-anchor="middle" font-size="21" fill="#000" font-family="'DejaVu Sans', sans-serif">1</text>
<text x="959.4" y="1809.5" text-anchor="end" font-size="21" fill="#000" font-family="'DejaVu Sans', sans-serif">1</text>
<line x1="1138.8" y1="1919.5" x2="1138.8" y2="1924.3" stroke="#000" stroke-width="1.1"/>
<line x1="964.9000000000001" y1="1743.0" x2="969.7" y2="1743.0" stroke="#000" stroke-width="1.1"/>
<text x="1138.8" y="1945.9" text-anchor="middle" font-size="21" fill="#000" font-family="'DejaVu Sans', sans-serif">2</text>
<text x="959.4" y="1750.7" text-anchor="end" font-size="21" fill="#000" font-family="'DejaVu Sans', sans-serif">2</text>
<line x1="1195.2" y1="1919.5" x2="1195.2" y2="1924.3" stroke="#000" stroke-width="1.1"/>
<line x1="964.9000000000001" y1="1684.2" x2="969.7" y2="1684.2" stroke="#000" stroke-width="1.1"/>
<text x="1195.2" y="1945.9" text-anchor="middle" font-size="21" fill="#000" font-family="'DejaVu Sans', sans-serif">3</text>
<text x="959.4" y="1691.8" text-anchor="end" font-size="21" fill="#000" font-family="'DejaVu Sans', sans-serif">3</text>
<line x1="1251.6" y1="1919.5" x2="1251.6" y2="1924.3" stroke="#000" stroke-width="1.1"/>
<line x1="964.9000000000001" y1="1625.3" x2="969.7" y2="1625.3" stroke="#000" stroke-width="1.1"/>
<text x="1251.6" y="1945.9" text-anchor="middle" font-size="21" fill="#000" font-family="'DejaVu Sans', sans-serif">4</text>
<text x="959.4" y="1633.0" text-anchor="end" font-size="21" fill="#000" font-family="'DejaVu Sans', sans-serif">4</text>
<line x1="1308.0" y1="1919.5" x2="1308.0" y2="1924.3" stroke="#000" stroke-width="1.1"/>
<line x1="964.9000000000001" y1="1566.5" x2="969.7" y2="1566.5" stroke="#000" stroke-width="1.1"/>
<text x="1308.0" y="1945.9" text-anchor="middle" font-size="21" fill="#000" font-family="'DejaVu Sans', sans-serif">5</text>
<text x="959.4" y="1574.2" text-anchor="end" font-size="21" fill="#000" font-family="'DejaVu Sans', sans-serif">5</text>
<text x="1138.8" y="1558.3" text-anchor="middle" font-size="35.7" fill="#000" font-family="'DejaVu Sans', sans-serif">Motif, peptide</text>
<clipPath id="cpS4"><rect x="1372.5" y="1566.5" width="338.3" height="353.0"/></clipPath>
<g clip-path="url(#cpS4)">
<g fill="#90ee90" fill-opacity="0.5" stroke="#90ee90" stroke-opacity="0.5" stroke-width="1">
<circle cx="1468.0" cy="1585.6" r="9.8"/>
<circle cx="1671.6" cy="1566.0" r="9.8"/>
<circle cx="1691.6" cy="1601.6" r="9.8"/>
<circle cx="1592.9" cy="1700.2" r="9.8"/>
<circle cx="1580.6" cy="1710.9" r="9.8"/>
<circle cx="1552.2" cy="1734.8" r="9.8"/>
<circle cx="1573.7" cy="1735.8" r="9.8"/>
<circle cx="1534.2" cy="1747.2" r="9.8"/>
<circle cx="1676.2" cy="1764.8" r="9.8"/>
<circle cx="1509.1" cy="1777.5" r="9.8"/>
<circle cx="1538.5" cy="1783.8" r="9.8"/>
<circle cx="1493.4" cy="1790.8" r="9.8"/>
<circle cx="1473.4" cy="1803.0" r="9.8"/>
<circle cx="1436.2" cy="1805.3" r="9.8"/>
<circle cx="1535.5" cy="1810.4" r="9.8"/>
<circle cx="1428.8" cy="1818.6" r="9.8"/>
<circle cx="1459.2" cy="1828.4" r="9.8"/>
<circle cx="1481.7" cy="1839.8" r="9.8"/>
<circle cx="1428.8" cy="1859.8" r="9.8"/>
<circle cx="1438.6" cy="1859.8" r="9.8"/>
<circle cx="1460.1" cy="1860.8" r="9.8"/>
<circle cx="1471.9" cy="1860.8" r="9.8"/>
<circle cx="1491.5" cy="1860.8" r="9.8"/>
<circle cx="1497.3" cy="1865.6" r="9.8"/>
<circle cx="1515.0" cy="1859.8" r="9.8"/>
<circle cx="1556.1" cy="1860.8" r="9.8"/>
<circle cx="1564.9" cy="1860.8" r="9.8"/>
<circle cx="1428.8" cy="1868.6" r="9.8"/>
<circle cx="1441.5" cy="1875.4" r="9.8"/>
<circle cx="1536.9" cy="1910.3" r="9.8"/>
</g>
<g fill="#9370db" fill-opacity="0.5" stroke="#9370db" stroke-opacity="0.5" stroke-width="1">
<circle cx="1428.8" cy="1706.0" r="7.0"/>
<circle cx="1502.2" cy="1717.4" r="7.0"/>
<circle cx="1560.6" cy="1720.3" r="7.0"/>
<circle cx="1528.7" cy="1736.0" r="7.0"/>
<circle cx="1499.9" cy="1747.2" r="7.0"/>
<circle cx="1537.1" cy="1753.6" r="7.0"/>
<circle cx="1520.3" cy="1764.4" r="7.0"/>
<circle cx="1496.0" cy="1771.2" r="7.0"/>
<circle cx="1537.1" cy="1772.2" r="7.0"/>
<circle cx="1627.2" cy="1770.3" r="7.0"/>
<circle cx="1474.8" cy="1783.0" r="7.0"/>
<circle cx="1498.9" cy="1781.4" r="7.0"/>
<circle cx="1514.4" cy="1785.0" r="7.0"/>
<circle cx="1479.3" cy="1805.3" r="7.0"/>
<circle cx="1527.7" cy="1805.3" r="7.0"/>
<circle cx="1449.9" cy="1819.2" r="7.0"/>
<circle cx="1428.8" cy="1822.0" r="7.0"/>
<circle cx="1499.9" cy="1835.9" r="7.0"/>
<circle cx="1429.4" cy="1859.8" r="7.0"/>
<circle cx="1430.8" cy="1860.8" r="7.0"/>
<circle cx="1428.8" cy="1876.4" r="7.0"/>
</g>
<g fill="#8b0000" fill-opacity="0.5" stroke="#8b0000" stroke-opacity="0.5" stroke-width="1">
<circle cx="1523.8" cy="1672.7" r="3.3"/>
<circle cx="1426.4" cy="1742.7" r="3.3"/>
<circle cx="1600.8" cy="1716.4" r="3.3"/>
<circle cx="1617.8" cy="1713.9" r="3.3"/>
<circle cx="1673.0" cy="1737.4" r="3.3"/>
<circle cx="1436.6" cy="1793.2" r="3.3"/>
<circle cx="1498.3" cy="1797.5" r="3.3"/>
<circle cx="1523.8" cy="1804.0" r="3.3"/>
<circle cx="1513.0" cy="1826.5" r="3.3"/>
<circle cx="1515.9" cy="1836.7" r="3.3"/>
<circle cx="1510.7" cy="1840.6" r="3.3"/>
<circle cx="1430.4" cy="1835.9" r="3.3"/>
<circle cx="1469.9" cy="1833.9" r="3.3"/>
<circle cx="1562.0" cy="1830.8" r="3.3"/>
<circle cx="1619.2" cy="1846.5" r="3.3"/>
<circle cx="1478.7" cy="1854.5" r="3.3"/>
<circle cx="1423.3" cy="1860.4" r="3.3"/>
<circle cx="1424.5" cy="1860.4" r="3.3"/>
<circle cx="1459.2" cy="1860.8" r="3.3"/>
<circle cx="1490.9" cy="1860.4" r="3.3"/>
<circle cx="1523.8" cy="1860.4" r="3.3"/>
<circle cx="1557.1" cy="1862.3" r="3.3"/>
<circle cx="1656.0" cy="1860.4" r="3.3"/>
<circle cx="1671.6" cy="1860.4" r="3.3"/>
<circle cx="1389.2" cy="1885.6" r="3.3"/>
<circle cx="1438.2" cy="1890.5" r="3.3"/>
</g>
<g fill="#8b0000" fill-opacity="0.5" stroke="#8b0000" stroke-opacity="0.5" stroke-width="1">
</g>
</g>
<line x1="1513.5" y1="1566.5" x2="1513.5" y2="1919.5" stroke="#000" stroke-width="1.2" stroke-dasharray="4.4 2.2"/>
<line x1="1372.5" y1="1772.5" x2="1710.8" y2="1772.5" stroke="#000" stroke-width="1.2" stroke-dasharray="4.4 2.2"/>
<rect x="1372.5" y="1566.5" width="338.3" height="353.0" fill="none" stroke="#000" stroke-width="1.1"/>
<line x1="1372.5" y1="1919.5" x2="1372.5" y2="1924.3" stroke="#000" stroke-width="1.1"/>
<line x1="1367.7" y1="1919.5" x2="1372.5" y2="1919.5" stroke="#000" stroke-width="1.1"/>
<text x="1372.5" y="1945.9" text-anchor="middle" font-size="21" fill="#000" font-family="'DejaVu Sans', sans-serif">−1</text>
<text x="1362.2" y="1927.2" text-anchor="end" font-size="21" fill="#000" font-family="'DejaVu Sans', sans-serif">−1</text>
<line x1="1428.9" y1="1919.5" x2="1428.9" y2="1924.3" stroke="#000" stroke-width="1.1"/>
<line x1="1367.7" y1="1860.7" x2="1372.5" y2="1860.7" stroke="#000" stroke-width="1.1"/>
<text x="1428.9" y="1945.9" text-anchor="middle" font-size="21" fill="#000" font-family="'DejaVu Sans', sans-serif">0</text>
<text x="1362.2" y="1868.3" text-anchor="end" font-size="21" fill="#000" font-family="'DejaVu Sans', sans-serif">0</text>
<line x1="1485.3" y1="1919.5" x2="1485.3" y2="1924.3" stroke="#000" stroke-width="1.1"/>
<line x1="1367.7" y1="1801.8" x2="1372.5" y2="1801.8" stroke="#000" stroke-width="1.1"/>
<text x="1485.3" y="1945.9" text-anchor="middle" font-size="21" fill="#000" font-family="'DejaVu Sans', sans-serif">1</text>
<text x="1362.2" y="1809.5" text-anchor="end" font-size="21" fill="#000" font-family="'DejaVu Sans', sans-serif">1</text>
<line x1="1541.7" y1="1919.5" x2="1541.7" y2="1924.3" stroke="#000" stroke-width="1.1"/>
<line x1="1367.7" y1="1743.0" x2="1372.5" y2="1743.0" stroke="#000" stroke-width="1.1"/>
<text x="1541.7" y="1945.9" text-anchor="middle" font-size="21" fill="#000" font-family="'DejaVu Sans', sans-serif">2</text>
<text x="1362.2" y="1750.7" text-anchor="end" font-size="21" fill="#000" font-family="'DejaVu Sans', sans-serif">2</text>
<line x1="1598.0" y1="1919.5" x2="1598.0" y2="1924.3" stroke="#000" stroke-width="1.1"/>
<line x1="1367.7" y1="1684.2" x2="1372.5" y2="1684.2" stroke="#000" stroke-width="1.1"/>
<text x="1598.0" y="1945.9" text-anchor="middle" font-size="21" fill="#000" font-family="'DejaVu Sans', sans-serif">3</text>
<text x="1362.2" y="1691.8" text-anchor="end" font-size="21" fill="#000" font-family="'DejaVu Sans', sans-serif">3</text>
<line x1="1654.4" y1="1919.5" x2="1654.4" y2="1924.3" stroke="#000" stroke-width="1.1"/>
<line x1="1367.7" y1="1625.3" x2="1372.5" y2="1625.3" stroke="#000" stroke-width="1.1"/>
<text x="1654.4" y="1945.9" text-anchor="middle" font-size="21" fill="#000" font-family="'DejaVu Sans', sans-serif">4</text>
<text x="1362.2" y="1633.0" text-anchor="end" font-size="21" fill="#000" font-family="'DejaVu Sans', sans-serif">4</text>
<line x1="1710.8" y1="1919.5" x2="1710.8" y2="1924.3" stroke="#000" stroke-width="1.1"/>
<line x1="1367.7" y1="1566.5" x2="1372.5" y2="1566.5" stroke="#000" stroke-width="1.1"/>
<text x="1710.8" y="1945.9" text-anchor="middle" font-size="21" fill="#000" font-family="'DejaVu Sans', sans-serif">5</text>
<text x="1362.2" y="1574.2" text-anchor="end" font-size="21" fill="#000" font-family="'DejaVu Sans', sans-serif">5</text>
<text x="1541.7" y="1558.3" text-anchor="middle" font-size="35.7" fill="#000" font-family="'DejaVu Sans', sans-serif">Non-motif, peptide</text>
<text x="267.3" y="815.1" text-anchor="middle" font-size="34.5" fill="#000" font-family="'DejaVu Sans', sans-serif">37(16)</text>
<text x="771.5" y="815.1" text-anchor="middle" font-size="34.5" fill="#000" font-family="'DejaVu Sans', sans-serif">75(68)</text>
<text x="267.3" y="1451.0" text-anchor="middle" font-size="34.5" fill="#000" font-family="'DejaVu Sans', sans-serif">1397(663)</text>
<text x="771.5" y="1451.0" text-anchor="middle" font-size="34.5" fill="#000" font-family="'DejaVu Sans', sans-serif">172(46)</text>
<text x="1088.0" y="815.1" text-anchor="middle" font-size="34.5" fill="#000" font-family="'DejaVu Sans', sans-serif">20(11)</text>
<text x="1592.2" y="815.1" text-anchor="middle" font-size="34.5" fill="#000" font-family="'DejaVu Sans', sans-serif">111(86)</text>
<text x="1088.0" y="1451.0" text-anchor="middle" font-size="34.5" fill="#000" font-family="'DejaVu Sans', sans-serif">418(210)</text>
<text x="1592.2" y="1451.0" text-anchor="middle" font-size="34.5" fill="#000" font-family="'DejaVu Sans', sans-serif">101(30)</text>
<text x="216.5" y="1592.2" text-anchor="middle" font-size="28.5" fill="#000" font-family="'DejaVu Sans', sans-serif">6(6)</text>
<text x="419.9" y="1592.2" text-anchor="middle" font-size="28.5" fill="#000" font-family="'DejaVu Sans', sans-serif">14(14)</text>
<text x="216.5" y="1909.5" text-anchor="middle" font-size="28.5" fill="#000" font-family="'DejaVu Sans', sans-serif">133(119)</text>
<text x="419.9" y="1909.5" text-anchor="middle" font-size="28.5" fill="#000" font-family="'DejaVu Sans', sans-serif">16(16)</text>
<text x="619.5" y="1592.2" text-anchor="middle" font-size="28.5" fill="#000" font-family="'DejaVu Sans', sans-serif">2(1)</text>
<text x="822.9" y="1592.2" text-anchor="middle" font-size="28.5" fill="#000" font-family="'DejaVu Sans', sans-serif">8(6)</text>
<text x="619.5" y="1909.5" text-anchor="middle" font-size="28.5" fill="#000" font-family="'DejaVu Sans', sans-serif">183(58)</text>
<text x="822.9" y="1909.5" text-anchor="middle" font-size="28.5" fill="#000" font-family="'DejaVu Sans', sans-serif">26(8)</text>
<text x="1037.2" y="1592.2" text-anchor="middle" font-size="28.5" fill="#000" font-family="'DejaVu Sans', sans-serif">0(0)</text>
<text x="1240.6" y="1592.2" text-anchor="middle" font-size="28.5" fill="#000" font-family="'DejaVu Sans', sans-serif">22(20)</text>
<text x="1037.2" y="1909.5" text-anchor="middle" font-size="28.5" fill="#000" font-family="'DejaVu Sans', sans-serif">49(45)</text>
<text x="1240.6" y="1909.5" text-anchor="middle" font-size="28.5" fill="#000" font-family="'DejaVu Sans', sans-serif">6(6)</text>
<text x="1440.0" y="1592.2" text-anchor="middle" font-size="28.5" fill="#000" font-family="'DejaVu Sans', sans-serif">6(1)</text>
<text x="1643.4" y="1592.2" text-anchor="middle" font-size="28.5" fill="#000" font-family="'DejaVu Sans', sans-serif">17(8)</text>
<text x="1440.0" y="1909.5" text-anchor="middle" font-size="28.5" fill="#000" font-family="'DejaVu Sans', sans-serif">39(16)</text>
<text x="1643.4" y="1909.5" text-anchor="middle" font-size="28.5" fill="#000" font-family="'DejaVu Sans', sans-serif">17(6)</text>
<text x="0" y="772.7" font-size="43" font-weight="bold" fill="#000" font-family="'Liberation Sans', Arial, sans-serif">b</text>
<text transform="translate(71,1342) rotate(-90)" text-anchor="middle" font-size="33.9" fill="#000" font-family="'DejaVu Sans', sans-serif">Model DDG (complex) [kcal/mol]</text>
<text x="746.7" y="2015.8" text-anchor="middle" font-size="34.2" fill="#000" font-family="'DejaVu Sans', sans-serif">Native DDG (complex) [kcal/mol]</text>
<rect x="1029.5" y="1984" width="698.5" height="44" rx="4" fill="#fff" fill-opacity="0.8" stroke="#cccccc" stroke-width="1.3"/>
<circle cx="1064.4" cy="2006.6" r="3.3" fill="#8b0000" fill-opacity="0.5" stroke="#8b0000" stroke-opacity="0.5"/>
<circle cx="1259.4" cy="2006.6" r="7" fill="#9370db" fill-opacity="0.5" stroke="#9370db" stroke-opacity="0.5"/>
<circle cx="1555.1" cy="2006.6" r="9.8" fill="#90ee90" fill-opacity="0.5" stroke="#90ee90" stroke-opacity="0.5"/>
<text x="1110" y="2015" font-size="25.5" fill="#000" font-family="'DejaVu Sans', sans-serif">X&gt;5Å</text>
<text x="1305" y="2015" font-size="25.5" fill="#000" font-family="'DejaVu Sans', sans-serif">2.5Å&lt;X&lt;=5Å</text>
<text x="1601" y="2015" font-size="25.5" fill="#000" font-family="'DejaVu Sans', sans-serif">X&lt;=2.5Å</text>
</svg></body></html>
